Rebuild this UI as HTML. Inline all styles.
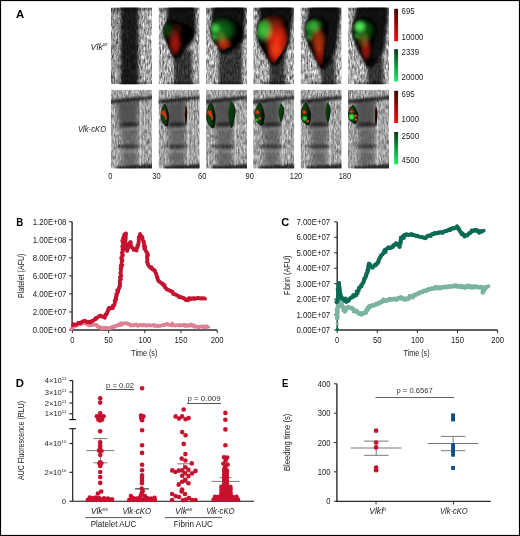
<!DOCTYPE html><html><head><meta charset="utf-8"><title>Figure</title><style>
html,body{margin:0;padding:0;background:#fff;width:520px;height:536px;overflow:hidden;font-family:"Liberation Sans",sans-serif}
svg{display:block;will-change:transform}
text{font-family:"Liberation Sans",sans-serif}
</style></head><body>
<svg width="520" height="536" viewBox="0 0 520 536">
<defs>
<filter id="tex1" x="0" y="0" width="1" height="1" color-interpolation-filters="sRGB">
<feTurbulence type="fractalNoise" baseFrequency="0.45 0.16" numOctaves="2" seed="4" result="n"/>
<feColorMatrix in="n" type="matrix" values="0.33 0.33 0.33 0 0  0.33 0.33 0.33 0 0  0.33 0.33 0.33 0 0  0 0 0 0 1"/>
<feComponentTransfer><feFuncR type="linear" slope="3.2" intercept="-0.95"/><feFuncG type="linear" slope="3.2" intercept="-0.95"/><feFuncB type="linear" slope="3.2" intercept="-0.95"/></feComponentTransfer>
</filter>
<filter id="b1" x="-50%" y="-50%" width="200%" height="200%"><feGaussianBlur stdDeviation="1"/></filter>
<filter id="b2" x="-50%" y="-50%" width="200%" height="200%"><feGaussianBlur stdDeviation="2"/></filter>
<filter id="b3" x="-50%" y="-50%" width="200%" height="200%"><feGaussianBlur stdDeviation="3"/></filter>
<filter id="b05" x="-50%" y="-50%" width="200%" height="200%"><feGaussianBlur stdDeviation="0.6"/></filter>
<linearGradient id="gr" x1="0" y1="0" x2="0" y2="1"><stop offset="0" stop-color="#3a0606"/><stop offset="0.5" stop-color="#a00808"/><stop offset="1" stop-color="#ff0a0a"/></linearGradient>
<linearGradient id="gg" x1="0" y1="0" x2="0" y2="1"><stop offset="0" stop-color="#053a1c"/><stop offset="0.5" stop-color="#109848"/><stop offset="1" stop-color="#18f064"/></linearGradient>
<linearGradient id="colA" x1="0" y1="0" x2="1" y2="0"><stop offset="0" stop-color="#000" stop-opacity="0"/><stop offset="0.2" stop-color="#000" stop-opacity="0.1"/><stop offset="0.3" stop-color="#000" stop-opacity="0.75"/><stop offset="0.5" stop-color="#000" stop-opacity="0.85"/><stop offset="0.65" stop-color="#000" stop-opacity="0.75"/><stop offset="0.72" stop-color="#000" stop-opacity="0.2"/><stop offset="1" stop-color="#000" stop-opacity="0"/></linearGradient>
<filter id="texA" x="0" y="0" width="520" height="536" filterUnits="userSpaceOnUse" color-interpolation-filters="sRGB">
<feTurbulence type="fractalNoise" baseFrequency="0.7 0.2" numOctaves="3" seed="11" result="n"/>
<feColorMatrix in="n" type="matrix" values="0.33 0.33 0.33 0 0  0.33 0.33 0.33 0 0  0.33 0.33 0.33 0 0  0 0 0 0 1" result="g"/>
<feComponentTransfer in="g"><feFuncR type="linear" slope="1.8" intercept="-0.22"/><feFuncG type="linear" slope="1.8" intercept="-0.22"/><feFuncB type="linear" slope="1.8" intercept="-0.22"/></feComponentTransfer>
<feComposite in2="SourceGraphic" operator="in"/>
</filter>
<filter id="bl15" x="-30%" y="-30%" width="160%" height="160%"><feGaussianBlur stdDeviation="1.5"/></filter>
<filter id="bl08" x="-30%" y="-30%" width="160%" height="160%"><feGaussianBlur stdDeviation="0.8"/></filter>
<filter id="bl05" x="-30%" y="-30%" width="160%" height="160%"><feGaussianBlur stdDeviation="0.5"/></filter>
<filter id="bl25" x="-30%" y="-30%" width="160%" height="160%"><feGaussianBlur stdDeviation="2.5"/></filter>
<clipPath id="cp1"><rect x="111" y="7.6" width="41" height="76.6"/></clipPath>
<clipPath id="cp2"><rect x="158.6" y="7.6" width="41" height="76.6"/></clipPath>
<clipPath id="bc3"><path d="M163.5,28.4 C163.9,26.6 164.7,25.3 165.7,23.9 C166.7,22.5 168.0,20.7 169.4,20.2 C170.8,19.7 171.2,20.3 173.9,20.9 C176.7,21.5 182.8,22.6 185.9,23.9 C189.0,25.1 191.4,26.4 192.6,28.4 C193.8,30.4 193.7,33.9 193.3,35.9 C192.9,37.9 192.3,38.1 190.3,40.3 C188.3,42.5 184.0,46.4 181.4,49.3 C178.8,52.2 176.4,57.2 174.7,57.5 C172.9,57.8 172.3,53.4 170.9,50.8 C169.5,48.2 167.6,44.5 166.4,41.8 C165.2,39.1 164.0,36.6 163.5,34.4 C163.0,32.2 163.1,30.1 163.5,28.4Z"/></clipPath>
<radialGradient id="rg4"><stop offset="0" stop-color="#0a4010" stop-opacity="1"/><stop offset="0.55" stop-color="#0a4010" stop-opacity="0.70"/><stop offset="1" stop-color="#0a4010" stop-opacity="0"/></radialGradient>
<radialGradient id="rg5"><stop offset="0" stop-color="#b01a10" stop-opacity="1"/><stop offset="0.55" stop-color="#b01a10" stop-opacity="0.70"/><stop offset="1" stop-color="#b01a10" stop-opacity="0"/></radialGradient>
<radialGradient id="rg6"><stop offset="0" stop-color="#300c06" stop-opacity="1"/><stop offset="0.55" stop-color="#300c06" stop-opacity="0.70"/><stop offset="1" stop-color="#300c06" stop-opacity="0"/></radialGradient>
<clipPath id="cp7"><rect x="206" y="7.6" width="41" height="76.6"/></clipPath>
<clipPath id="bc8"><path d="M211.2,25.4 C211.6,23.4 212.3,22.1 213.4,20.9 C214.5,19.6 216.2,18.5 217.9,17.9 C219.7,17.3 221.4,16.9 223.9,17.2 C226.4,17.4 230.2,18.0 232.9,19.4 C235.6,20.8 238.7,23.1 240.3,25.4 C241.9,27.6 242.5,30.4 242.6,32.9 C242.7,35.4 242.1,38.3 241.0,40.3 C239.9,42.3 237.9,43.5 235.8,44.8 C233.7,46.0 230.6,46.8 228.4,47.8 C226.2,48.8 224.2,51.0 222.4,50.8 C220.7,50.5 219.4,48.0 217.9,46.3 C216.4,44.5 214.5,42.5 213.4,40.3 C212.3,38.1 211.6,35.4 211.2,32.9 C210.8,30.4 210.8,27.4 211.2,25.4Z"/></clipPath>
<radialGradient id="rg9"><stop offset="0" stop-color="#10701a" stop-opacity="1"/><stop offset="0.55" stop-color="#10701a" stop-opacity="0.70"/><stop offset="1" stop-color="#10701a" stop-opacity="0"/></radialGradient>
<radialGradient id="rg10"><stop offset="0" stop-color="#40c040" stop-opacity="1"/><stop offset="0.55" stop-color="#40c040" stop-opacity="0.70"/><stop offset="1" stop-color="#40c040" stop-opacity="0"/></radialGradient>
<radialGradient id="rg11"><stop offset="0" stop-color="#30a830" stop-opacity="1"/><stop offset="0.55" stop-color="#30a830" stop-opacity="0.70"/><stop offset="1" stop-color="#30a830" stop-opacity="0"/></radialGradient>
<radialGradient id="rg12"><stop offset="0" stop-color="#d02a10" stop-opacity="1"/><stop offset="0.55" stop-color="#d02a10" stop-opacity="0.70"/><stop offset="1" stop-color="#d02a10" stop-opacity="0"/></radialGradient>
<radialGradient id="rg13"><stop offset="0" stop-color="#503a10" stop-opacity="1"/><stop offset="0.55" stop-color="#503a10" stop-opacity="0.70"/><stop offset="1" stop-color="#503a10" stop-opacity="0"/></radialGradient>
<clipPath id="cp14"><rect x="253.2" y="7.6" width="41" height="76.6"/></clipPath>
<clipPath id="bc15"><path d="M257.5,28.4 C257.8,25.8 258.1,24.8 259.0,23.2 C259.9,21.6 261.2,19.9 262.7,18.7 C264.2,17.4 265.8,16.3 267.9,15.7 C270.0,15.1 272.9,14.8 275.4,15.0 C277.9,15.2 280.8,16.0 282.8,17.2 C284.8,18.4 286.3,20.3 287.3,22.4 C288.3,24.5 288.7,27.2 288.8,29.9 C288.9,32.6 288.6,36.1 288.1,38.8 C287.6,41.5 286.9,43.8 285.8,46.3 C284.7,48.8 282.8,51.6 281.3,53.8 C279.8,56.0 278.1,57.8 276.9,59.7 C275.7,61.6 275.1,64.8 273.9,65.0 C272.6,65.2 270.9,63.1 269.4,61.2 C267.9,59.3 266.4,56.3 264.9,53.8 C263.4,51.3 261.6,48.8 260.4,46.3 C259.2,43.8 258.0,41.8 257.5,38.8 C257.0,35.8 257.2,31.0 257.5,28.4Z"/></clipPath>
<radialGradient id="rg16"><stop offset="0" stop-color="#ff2c10" stop-opacity="1"/><stop offset="0.55" stop-color="#ff2c10" stop-opacity="0.70"/><stop offset="1" stop-color="#ff2c10" stop-opacity="0"/></radialGradient>
<radialGradient id="rg17"><stop offset="0" stop-color="#e8220c" stop-opacity="1"/><stop offset="0.55" stop-color="#e8220c" stop-opacity="0.70"/><stop offset="1" stop-color="#e8220c" stop-opacity="0"/></radialGradient>
<radialGradient id="rg18"><stop offset="0" stop-color="#40d040" stop-opacity="1"/><stop offset="0.55" stop-color="#40d040" stop-opacity="0.70"/><stop offset="1" stop-color="#40d040" stop-opacity="0"/></radialGradient>
<radialGradient id="rg19"><stop offset="0" stop-color="#601408" stop-opacity="1"/><stop offset="0.55" stop-color="#601408" stop-opacity="0.70"/><stop offset="1" stop-color="#601408" stop-opacity="0"/></radialGradient>
<clipPath id="cp20"><rect x="300.6" y="7.6" width="41" height="76.6"/></clipPath>
<clipPath id="bc21"><path d="M305.2,28.4 C305.3,26.3 305.8,24.7 306.7,23.2 C307.6,21.7 309.0,20.4 310.4,19.4 C311.8,18.4 313.4,17.6 314.9,17.2 C316.4,16.8 317.9,16.9 319.4,17.2 C320.9,17.4 322.5,17.7 323.9,18.7 C325.3,19.7 326.9,21.3 327.6,23.2 C328.3,25.1 328.4,27.0 328.3,29.9 C328.2,32.8 327.5,36.8 326.9,40.3 C326.3,43.8 325.2,47.6 324.6,50.8 C324.0,54.0 323.6,56.8 323.1,59.7 C322.6,62.6 322.5,67.5 321.6,68.0 C320.7,68.5 319.3,65.1 317.9,62.7 C316.5,60.3 314.9,56.8 313.4,53.8 C311.9,50.8 310.1,47.8 308.9,44.8 C307.7,41.8 306.6,38.6 306.0,35.9 C305.4,33.2 305.1,30.5 305.2,28.4Z"/></clipPath>
<radialGradient id="rg22"><stop offset="0" stop-color="#2ea830" stop-opacity="1"/><stop offset="0.55" stop-color="#2ea830" stop-opacity="0.70"/><stop offset="1" stop-color="#2ea830" stop-opacity="0"/></radialGradient>
<radialGradient id="rg23"><stop offset="0" stop-color="#289a2a" stop-opacity="1"/><stop offset="0.55" stop-color="#289a2a" stop-opacity="0.70"/><stop offset="1" stop-color="#289a2a" stop-opacity="0"/></radialGradient>
<radialGradient id="rg24"><stop offset="0" stop-color="#b8360c" stop-opacity="1"/><stop offset="0.55" stop-color="#b8360c" stop-opacity="0.70"/><stop offset="1" stop-color="#b8360c" stop-opacity="0"/></radialGradient>
<radialGradient id="rg25"><stop offset="0" stop-color="#981408" stop-opacity="1"/><stop offset="0.55" stop-color="#981408" stop-opacity="0.70"/><stop offset="1" stop-color="#981408" stop-opacity="0"/></radialGradient>
<radialGradient id="rg26"><stop offset="0" stop-color="#145a14" stop-opacity="1"/><stop offset="0.55" stop-color="#145a14" stop-opacity="0.70"/><stop offset="1" stop-color="#145a14" stop-opacity="0"/></radialGradient>
<clipPath id="cp27"><rect x="348" y="7.6" width="41" height="76.6"/></clipPath>
<clipPath id="bc28"><path d="M352.5,29.9 C352.6,27.9 353.1,25.6 354.0,23.9 C354.9,22.1 356.3,20.5 357.7,19.4 C359.1,18.3 360.6,17.6 362.2,17.2 C363.8,16.8 365.7,16.8 367.4,17.2 C369.1,17.6 371.1,18.3 372.6,19.4 C374.1,20.5 375.6,22.1 376.3,23.9 C377.1,25.6 377.3,27.2 377.1,29.9 C376.9,32.6 375.6,36.8 374.9,40.3 C374.1,43.8 373.4,47.6 372.6,50.8 C371.9,54.0 371.1,57.1 370.4,59.7 C369.6,62.3 369.1,66.4 368.1,66.4 C367.1,66.4 365.8,62.3 364.4,59.7 C363.0,57.1 361.4,53.8 359.9,50.8 C358.4,47.8 356.5,44.3 355.4,41.8 C354.3,39.3 353.7,37.9 353.2,35.9 C352.7,33.9 352.4,31.9 352.5,29.9Z"/></clipPath>
<radialGradient id="rg29"><stop offset="0" stop-color="#58ff58" stop-opacity="1"/><stop offset="0.55" stop-color="#58ff58" stop-opacity="0.70"/><stop offset="1" stop-color="#58ff58" stop-opacity="0"/></radialGradient>
<radialGradient id="rg30"><stop offset="0" stop-color="#0c5a14" stop-opacity="1"/><stop offset="0.55" stop-color="#0c5a14" stop-opacity="0.70"/><stop offset="1" stop-color="#0c5a14" stop-opacity="0"/></radialGradient>
<radialGradient id="rg31"><stop offset="0" stop-color="#5a4a0c" stop-opacity="1"/><stop offset="0.55" stop-color="#5a4a0c" stop-opacity="0.70"/><stop offset="1" stop-color="#5a4a0c" stop-opacity="0"/></radialGradient>
<radialGradient id="rg32"><stop offset="0" stop-color="#a81810" stop-opacity="1"/><stop offset="0.55" stop-color="#a81810" stop-opacity="0.70"/><stop offset="1" stop-color="#a81810" stop-opacity="0"/></radialGradient>
<radialGradient id="rg33"><stop offset="0" stop-color="#289828" stop-opacity="1"/><stop offset="0.55" stop-color="#289828" stop-opacity="0.70"/><stop offset="1" stop-color="#289828" stop-opacity="0"/></radialGradient>
<clipPath id="cp34"><rect x="111" y="89.7" width="41" height="78.9"/></clipPath>
<clipPath id="cp35"><rect x="158.6" y="89.7" width="41" height="78.9"/></clipPath>
<linearGradient id="lg36" x1="0" y1="0" x2="1" y2="0"><stop offset="0" stop-color="#0e5214"/><stop offset="0.55" stop-color="#08380b"/><stop offset="1" stop-color="#010601"/></linearGradient>
<linearGradient id="lg37" x1="0" y1="0" x2="1" y2="1"><stop offset="0" stop-color="#3a0a06"/><stop offset="1" stop-color="#100202"/></linearGradient>
<radialGradient id="rg38"><stop offset="0" stop-color="#ff3414" stop-opacity="1"/><stop offset="0.55" stop-color="#ff3414" stop-opacity="0.70"/><stop offset="1" stop-color="#ff3414" stop-opacity="0"/></radialGradient>
<radialGradient id="rg39"><stop offset="0" stop-color="#ff3a14" stop-opacity="1"/><stop offset="0.55" stop-color="#ff3a14" stop-opacity="0.70"/><stop offset="1" stop-color="#ff3a14" stop-opacity="0"/></radialGradient>
<radialGradient id="rg40"><stop offset="0" stop-color="#f04014" stop-opacity="0.95"/><stop offset="0.55" stop-color="#f04014" stop-opacity="0.66"/><stop offset="1" stop-color="#f04014" stop-opacity="0"/></radialGradient>
<clipPath id="cp41"><rect x="206" y="89.7" width="41" height="78.9"/></clipPath>
<linearGradient id="lg42" x1="0" y1="0" x2="1" y2="0"><stop offset="0" stop-color="#0e5214"/><stop offset="0.55" stop-color="#08380b"/><stop offset="1" stop-color="#010601"/></linearGradient>
<linearGradient id="lg43" x1="0" y1="0" x2="1" y2="1"><stop offset="0" stop-color="#0a4a10"/><stop offset="1" stop-color="#041e06"/></linearGradient>
<radialGradient id="rg44"><stop offset="0" stop-color="#ff3414" stop-opacity="1"/><stop offset="0.55" stop-color="#ff3414" stop-opacity="0.70"/><stop offset="1" stop-color="#ff3414" stop-opacity="0"/></radialGradient>
<radialGradient id="rg45"><stop offset="0" stop-color="#ff3a14" stop-opacity="1"/><stop offset="0.55" stop-color="#ff3a14" stop-opacity="0.70"/><stop offset="1" stop-color="#ff3a14" stop-opacity="0"/></radialGradient>
<radialGradient id="rg46"><stop offset="0" stop-color="#f04014" stop-opacity="0.95"/><stop offset="0.55" stop-color="#f04014" stop-opacity="0.66"/><stop offset="1" stop-color="#f04014" stop-opacity="0"/></radialGradient>
<clipPath id="cp47"><rect x="253.2" y="89.7" width="41" height="78.9"/></clipPath>
<linearGradient id="lg48" x1="0" y1="0" x2="1" y2="0"><stop offset="0" stop-color="#0e5214"/><stop offset="0.55" stop-color="#08380b"/><stop offset="1" stop-color="#010601"/></linearGradient>
<linearGradient id="lg49" x1="0" y1="0" x2="1" y2="1"><stop offset="0" stop-color="#0c5212"/><stop offset="1" stop-color="#041e06"/></linearGradient>
<radialGradient id="rg50"><stop offset="0" stop-color="#ff3414" stop-opacity="1"/><stop offset="0.55" stop-color="#ff3414" stop-opacity="0.70"/><stop offset="1" stop-color="#ff3414" stop-opacity="0"/></radialGradient>
<radialGradient id="rg51"><stop offset="0" stop-color="#ff5018" stop-opacity="1"/><stop offset="0.55" stop-color="#ff5018" stop-opacity="0.70"/><stop offset="1" stop-color="#ff5018" stop-opacity="0"/></radialGradient>
<radialGradient id="rg52"><stop offset="0" stop-color="#30d038" stop-opacity="1"/><stop offset="0.55" stop-color="#30d038" stop-opacity="0.70"/><stop offset="1" stop-color="#30d038" stop-opacity="0"/></radialGradient>
<clipPath id="cp53"><rect x="300.6" y="89.7" width="41" height="78.9"/></clipPath>
<linearGradient id="lg54" x1="0" y1="0" x2="1" y2="0"><stop offset="0" stop-color="#0e5214"/><stop offset="0.55" stop-color="#08380b"/><stop offset="1" stop-color="#010601"/></linearGradient>
<linearGradient id="lg55" x1="0" y1="0" x2="1" y2="1"><stop offset="0" stop-color="#0a4a10"/><stop offset="1" stop-color="#041e06"/></linearGradient>
<radialGradient id="rg56"><stop offset="0" stop-color="#ff3414" stop-opacity="1"/><stop offset="0.55" stop-color="#ff3414" stop-opacity="0.70"/><stop offset="1" stop-color="#ff3414" stop-opacity="0"/></radialGradient>
<radialGradient id="rg57"><stop offset="0" stop-color="#38e040" stop-opacity="1"/><stop offset="0.55" stop-color="#38e040" stop-opacity="0.70"/><stop offset="1" stop-color="#38e040" stop-opacity="0"/></radialGradient>
<radialGradient id="rg58"><stop offset="0" stop-color="#ff5018" stop-opacity="1"/><stop offset="0.55" stop-color="#ff5018" stop-opacity="0.70"/><stop offset="1" stop-color="#ff5018" stop-opacity="0"/></radialGradient>
<clipPath id="cp59"><rect x="348" y="89.7" width="41" height="78.9"/></clipPath>
<linearGradient id="lg60" x1="0" y1="0" x2="1" y2="0"><stop offset="0" stop-color="#0e5214"/><stop offset="0.55" stop-color="#08380b"/><stop offset="1" stop-color="#010601"/></linearGradient>
<linearGradient id="lg61" x1="0" y1="0" x2="1" y2="1"><stop offset="0" stop-color="#400a08"/><stop offset="1" stop-color="#120202"/></linearGradient>
<radialGradient id="rg62"><stop offset="0" stop-color="#48ff48" stop-opacity="1"/><stop offset="0.55" stop-color="#48ff48" stop-opacity="0.70"/><stop offset="1" stop-color="#48ff48" stop-opacity="0"/></radialGradient>
<radialGradient id="rg63"><stop offset="0" stop-color="#ff3414" stop-opacity="1"/><stop offset="0.55" stop-color="#ff3414" stop-opacity="0.70"/><stop offset="1" stop-color="#ff3414" stop-opacity="0"/></radialGradient>
<radialGradient id="rg64"><stop offset="0" stop-color="#ff5018" stop-opacity="1"/><stop offset="0.55" stop-color="#ff5018" stop-opacity="0.70"/><stop offset="1" stop-color="#ff5018" stop-opacity="0"/></radialGradient>
<radialGradient id="rg65"><stop offset="0" stop-color="#ff5018" stop-opacity="1"/><stop offset="0.55" stop-color="#ff5018" stop-opacity="0.70"/><stop offset="1" stop-color="#ff5018" stop-opacity="0"/></radialGradient>
</defs>
<rect x="0" y="0" width="520" height="536" fill="#fff"/>
<text x="16" y="17.8" font-size="11.6" textLength="8.2" lengthAdjust="spacingAndGlyphs" font-weight="bold" fill="#000" >A</text>
<text x="90.6" y="49.8" font-size="8.8" font-style="italic" fill="#1a1a1a">Vlk<tspan font-size="4.4" dy="-3.4" textLength="4.6" lengthAdjust="spacingAndGlyphs">fl/fl</tspan></text>
<text x="77.9" y="131.7" font-size="9" textLength="28.3" lengthAdjust="spacingAndGlyphs" font-style="italic" fill="#1a1a1a" >Vlk-cKO</text>
<g clip-path="url(#cp1)">
<rect x="111" y="7.6" width="41" height="76.6" fill="#fff" filter="url(#texA)"/>
<rect x="111" y="7.6" width="41" height="3" fill="#000" opacity="0.45" filter="url(#bl08)"/>
<rect x="119" y="82.2" width="29" height="3" fill="#000" opacity="0.5" filter="url(#bl08)"/>
<rect x="120.5" y="4.6" width="18" height="82.6" fill="#000" opacity="0.85" filter="url(#bl15)"/>
<rect x="111" y="7.6" width="8" height="76.6" fill="#000" opacity="0.12"/>
</g>
<g clip-path="url(#cp2)">
<rect x="158.6" y="7.6" width="41" height="76.6" fill="#fff" filter="url(#texA)"/>
<rect x="158.6" y="7.6" width="41" height="3" fill="#000" opacity="0.45" filter="url(#bl08)"/>
<rect x="166.6" y="82.2" width="29" height="3" fill="#000" opacity="0.5" filter="url(#bl08)"/>
<rect x="174" y="50" width="18" height="36" fill="#000" opacity="0.7" filter="url(#bl15)"/>
<path d="M170.0,6.0 C174.3,4.3 188.8,3.7 193.0,6.0 C197.2,8.3 195.1,15.7 195.5,20.0 C195.9,24.3 196.0,28.3 195.5,32.0 C195.0,35.7 194.4,38.7 192.5,42.0 C190.6,45.3 186.8,49.0 184.0,52.0 C181.2,55.0 178.3,60.3 176.0,60.0 C173.7,59.7 171.7,53.7 170.0,50.0 C168.3,46.3 166.8,41.7 166.0,38.0 C165.2,34.3 164.8,31.7 165.0,28.0 C165.2,24.3 166.2,19.7 167.0,16.0 C167.8,12.3 165.7,7.7 170.0,6.0Z" fill="#000" opacity="0.9" filter="url(#bl15)"/>
<path d="M163.5,28.4 C163.9,26.6 164.7,25.3 165.7,23.9 C166.7,22.5 168.0,20.7 169.4,20.2 C170.8,19.7 171.2,20.3 173.9,20.9 C176.7,21.5 182.8,22.6 185.9,23.9 C189.0,25.1 191.4,26.4 192.6,28.4 C193.8,30.4 193.7,33.9 193.3,35.9 C192.9,37.9 192.3,38.1 190.3,40.3 C188.3,42.5 184.0,46.4 181.4,49.3 C178.8,52.2 176.4,57.2 174.7,57.5 C172.9,57.8 172.3,53.4 170.9,50.8 C169.5,48.2 167.6,44.5 166.4,41.8 C165.2,39.1 164.0,36.6 163.5,34.4 C163.0,32.2 163.1,30.1 163.5,28.4Z" fill="#050505" filter="url(#bl08)"/>
<g clip-path="url(#bc3)"><g filter="url(#bl15)" style="isolation:isolate"><ellipse cx="167" cy="30" rx="7.32" ry="9.76" fill="url(#rg4)" style="mix-blend-mode:screen"/><ellipse cx="175" cy="43" rx="7.32" ry="14.64" fill="url(#rg5)" style="mix-blend-mode:screen"/><ellipse cx="177" cy="29" rx="7.32" ry="7.32" fill="url(#rg6)" style="mix-blend-mode:screen"/></g></g>
</g>
<g clip-path="url(#cp7)">
<rect x="206" y="7.6" width="41" height="76.6" fill="#fff" filter="url(#texA)"/>
<rect x="206" y="7.6" width="41" height="3" fill="#000" opacity="0.45" filter="url(#bl08)"/>
<rect x="214" y="82.2" width="29" height="3" fill="#000" opacity="0.5" filter="url(#bl08)"/>
<rect x="219" y="45" width="23" height="41" fill="#000" opacity="0.7" filter="url(#bl15)"/>
<path d="M215.0,6.0 C220.2,3.0 238.1,2.3 243.0,6.0 C247.9,9.7 244.5,22.0 244.5,28.0 C244.5,34.0 244.4,38.7 243.0,42.0 C241.6,45.3 239.2,46.0 236.0,48.0 C232.8,50.0 227.2,54.3 224.0,54.0 C220.8,53.7 219.0,49.0 217.0,46.0 C215.0,43.0 212.9,39.7 212.0,36.0 C211.1,32.3 211.0,29.0 211.5,24.0 C212.0,19.0 209.8,9.0 215.0,6.0Z" fill="#000" opacity="0.9" filter="url(#bl15)"/>
<path d="M211.2,25.4 C211.6,23.4 212.3,22.1 213.4,20.9 C214.5,19.6 216.2,18.5 217.9,17.9 C219.7,17.3 221.4,16.9 223.9,17.2 C226.4,17.4 230.2,18.0 232.9,19.4 C235.6,20.8 238.7,23.1 240.3,25.4 C241.9,27.6 242.5,30.4 242.6,32.9 C242.7,35.4 242.1,38.3 241.0,40.3 C239.9,42.3 237.9,43.5 235.8,44.8 C233.7,46.0 230.6,46.8 228.4,47.8 C226.2,48.8 224.2,51.0 222.4,50.8 C220.7,50.5 219.4,48.0 217.9,46.3 C216.4,44.5 214.5,42.5 213.4,40.3 C212.3,38.1 211.6,35.4 211.2,32.9 C210.8,30.4 210.8,27.4 211.2,25.4Z" fill="#050505" filter="url(#bl08)"/>
<g clip-path="url(#bc8)"><g filter="url(#bl15)" style="isolation:isolate"><ellipse cx="221" cy="30" rx="17.08" ry="14.64" fill="url(#rg9)" style="mix-blend-mode:screen"/><ellipse cx="215" cy="28.4" rx="6.1" ry="6.1" fill="url(#rg10)" style="mix-blend-mode:screen"/><ellipse cx="213.8" cy="37.3" rx="3.904" ry="3.904" fill="url(#rg11)" style="mix-blend-mode:screen"/><ellipse cx="224" cy="44.5" rx="8.54" ry="7.32" fill="url(#rg12)" style="mix-blend-mode:screen"/><ellipse cx="221" cy="37" rx="6.1" ry="6.1" fill="url(#rg13)" style="mix-blend-mode:screen"/></g></g>
</g>
<g clip-path="url(#cp14)">
<rect x="253.2" y="7.6" width="41" height="76.6" fill="#fff" filter="url(#texA)"/>
<rect x="253.2" y="7.6" width="41" height="3" fill="#000" opacity="0.45" filter="url(#bl08)"/>
<rect x="261.2" y="82.2" width="29" height="3" fill="#000" opacity="0.5" filter="url(#bl08)"/>
<rect x="269.5" y="55" width="15.5" height="31" fill="#000" opacity="0.7" filter="url(#bl15)"/>
<path d="M262.0,6.0 C267.4,4.0 286.7,2.0 291.5,6.0 C296.3,10.0 291.4,23.5 291.0,30.0 C290.6,36.5 290.2,40.7 289.0,45.0 C287.8,49.3 286.2,52.5 284.0,56.0 C281.8,59.5 278.7,65.7 276.0,66.0 C273.3,66.3 270.5,61.3 268.0,58.0 C265.5,54.7 262.8,50.3 261.0,46.0 C259.2,41.7 257.8,36.7 257.5,32.0 C257.2,27.3 258.2,22.3 259.0,18.0 C259.8,13.7 256.6,8.0 262.0,6.0Z" fill="#000" opacity="0.9" filter="url(#bl15)"/>
<path d="M257.5,28.4 C257.8,25.8 258.1,24.8 259.0,23.2 C259.9,21.6 261.2,19.9 262.7,18.7 C264.2,17.4 265.8,16.3 267.9,15.7 C270.0,15.1 272.9,14.8 275.4,15.0 C277.9,15.2 280.8,16.0 282.8,17.2 C284.8,18.4 286.3,20.3 287.3,22.4 C288.3,24.5 288.7,27.2 288.8,29.9 C288.9,32.6 288.6,36.1 288.1,38.8 C287.6,41.5 286.9,43.8 285.8,46.3 C284.7,48.8 282.8,51.6 281.3,53.8 C279.8,56.0 278.1,57.8 276.9,59.7 C275.7,61.6 275.1,64.8 273.9,65.0 C272.6,65.2 270.9,63.1 269.4,61.2 C267.9,59.3 266.4,56.3 264.9,53.8 C263.4,51.3 261.6,48.8 260.4,46.3 C259.2,43.8 258.0,41.8 257.5,38.8 C257.0,35.8 257.2,31.0 257.5,28.4Z" fill="#050505" filter="url(#bl08)"/>
<g clip-path="url(#bc15)"><g filter="url(#bl15)" style="isolation:isolate"><ellipse cx="277" cy="40" rx="13.42" ry="20.74" fill="url(#rg16)" style="mix-blend-mode:screen"/><ellipse cx="275.5" cy="53" rx="8.54" ry="12.2" fill="url(#rg17)" style="mix-blend-mode:screen"/><ellipse cx="263.5" cy="30" rx="10.37" ry="13.42" fill="url(#rg18)" style="mix-blend-mode:screen"/><ellipse cx="274" cy="21" rx="12.2" ry="7.32" fill="url(#rg19)" style="mix-blend-mode:screen"/></g></g>
</g>
<g clip-path="url(#cp20)">
<rect x="300.6" y="7.6" width="41" height="76.6" fill="#fff" filter="url(#texA)"/>
<rect x="300.6" y="7.6" width="41" height="3" fill="#000" opacity="0.45" filter="url(#bl08)"/>
<rect x="308.6" y="82.2" width="29" height="3" fill="#000" opacity="0.5" filter="url(#bl08)"/>
<rect x="321" y="58" width="14" height="28" fill="#000" opacity="0.7" filter="url(#bl15)"/>
<path d="M312.0,6.0 C317.2,4.0 334.2,1.2 338.5,6.0 C342.8,10.8 338.5,27.3 338.0,35.0 C337.5,42.7 336.8,47.5 335.5,52.0 C334.2,56.5 332.2,59.0 330.0,62.0 C327.8,65.0 324.3,70.3 322.0,70.0 C319.7,69.7 318.2,64.0 316.0,60.0 C313.8,56.0 310.8,51.0 309.0,46.0 C307.2,41.0 305.3,34.7 305.0,30.0 C304.7,25.3 305.8,22.0 307.0,18.0 C308.2,14.0 306.8,8.0 312.0,6.0Z" fill="#000" opacity="0.9" filter="url(#bl15)"/>
<path d="M305.2,28.4 C305.3,26.3 305.8,24.7 306.7,23.2 C307.6,21.7 309.0,20.4 310.4,19.4 C311.8,18.4 313.4,17.6 314.9,17.2 C316.4,16.8 317.9,16.9 319.4,17.2 C320.9,17.4 322.5,17.7 323.9,18.7 C325.3,19.7 326.9,21.3 327.6,23.2 C328.3,25.1 328.4,27.0 328.3,29.9 C328.2,32.8 327.5,36.8 326.9,40.3 C326.3,43.8 325.2,47.6 324.6,50.8 C324.0,54.0 323.6,56.8 323.1,59.7 C322.6,62.6 322.5,67.5 321.6,68.0 C320.7,68.5 319.3,65.1 317.9,62.7 C316.5,60.3 314.9,56.8 313.4,53.8 C311.9,50.8 310.1,47.8 308.9,44.8 C307.7,41.8 306.6,38.6 306.0,35.9 C305.4,33.2 305.1,30.5 305.2,28.4Z" fill="#050505" filter="url(#bl08)"/>
<g clip-path="url(#bc21)"><g filter="url(#bl15)" style="isolation:isolate"><ellipse cx="311.5" cy="27" rx="9.76" ry="9.76" fill="url(#rg22)" style="mix-blend-mode:screen"/><ellipse cx="309" cy="37.3" rx="4.27" ry="4.27" fill="url(#rg23)" style="mix-blend-mode:screen"/><ellipse cx="318.5" cy="41" rx="8.54" ry="14.64" fill="url(#rg24)" style="mix-blend-mode:screen"/><ellipse cx="320" cy="55" rx="6.71" ry="12.2" fill="url(#rg25)" style="mix-blend-mode:screen"/><ellipse cx="317" cy="25" rx="7.32" ry="7.32" fill="url(#rg26)" style="mix-blend-mode:screen"/></g></g>
</g>
<g clip-path="url(#cp27)">
<rect x="348" y="7.6" width="41" height="76.6" fill="#fff" filter="url(#texA)"/>
<rect x="348" y="7.6" width="41" height="3" fill="#000" opacity="0.45" filter="url(#bl08)"/>
<rect x="356" y="82.2" width="29" height="3" fill="#000" opacity="0.5" filter="url(#bl08)"/>
<rect x="367.5" y="58" width="15.5" height="28" fill="#000" opacity="0.7" filter="url(#bl15)"/>
<path d="M360.0,6.0 C365.4,4.0 382.2,1.2 386.5,6.0 C390.8,10.8 386.5,27.3 386.0,35.0 C385.5,42.7 385.0,47.5 383.5,52.0 C382.0,56.5 379.4,59.3 377.0,62.0 C374.6,64.7 371.5,68.7 369.0,68.0 C366.5,67.3 364.2,61.7 362.0,58.0 C359.8,54.3 357.6,50.7 356.0,46.0 C354.4,41.3 352.8,34.7 352.5,30.0 C352.2,25.3 352.8,22.0 354.0,18.0 C355.2,14.0 354.6,8.0 360.0,6.0Z" fill="#000" opacity="0.9" filter="url(#bl15)"/>
<path d="M352.5,29.9 C352.6,27.9 353.1,25.6 354.0,23.9 C354.9,22.1 356.3,20.5 357.7,19.4 C359.1,18.3 360.6,17.6 362.2,17.2 C363.8,16.8 365.7,16.8 367.4,17.2 C369.1,17.6 371.1,18.3 372.6,19.4 C374.1,20.5 375.6,22.1 376.3,23.9 C377.1,25.6 377.3,27.2 377.1,29.9 C376.9,32.6 375.6,36.8 374.9,40.3 C374.1,43.8 373.4,47.6 372.6,50.8 C371.9,54.0 371.1,57.1 370.4,59.7 C369.6,62.3 369.1,66.4 368.1,66.4 C367.1,66.4 365.8,62.3 364.4,59.7 C363.0,57.1 361.4,53.8 359.9,50.8 C358.4,47.8 356.5,44.3 355.4,41.8 C354.3,39.3 353.7,37.9 353.2,35.9 C352.7,33.9 352.4,31.9 352.5,29.9Z" fill="#050505" filter="url(#bl08)"/>
<g clip-path="url(#bc28)"><g filter="url(#bl15)" style="isolation:isolate"><ellipse cx="359.5" cy="26.5" rx="7.32" ry="7.32" fill="url(#rg29)" style="mix-blend-mode:screen"/><ellipse cx="364" cy="30" rx="12.2" ry="12.2" fill="url(#rg30)" style="mix-blend-mode:screen"/><ellipse cx="363.5" cy="40" rx="7.32" ry="8.54" fill="url(#rg31)" style="mix-blend-mode:screen"/><ellipse cx="366" cy="50" rx="6.1" ry="12.2" fill="url(#rg32)" style="mix-blend-mode:screen"/><ellipse cx="356.5" cy="36" rx="3.66" ry="3.66" fill="url(#rg33)" style="mix-blend-mode:screen"/></g></g>
</g>
<g clip-path="url(#cp34)">
<rect x="111" y="89.7" width="41" height="78.9" fill="#fff" filter="url(#texA)"/>
<rect x="111" y="89.7" width="41" height="78.9" fill="#8e8e8e" opacity="0.3"/>
<path d="M117,101.7 L139,98.7 L138,129.7 L119,130.7Z" fill="#4a4a4a" opacity="0.9" filter="url(#bl25)"/>
<path d="M121.5,127.7 L138,127.7 L137,166.7 L122,166.7Z" fill="#555" opacity="0.78" filter="url(#bl25)"/>
<path d="M109,99.9 L154,95.5 L154,99.10000000000001 L109,104.10000000000001Z" fill="#000" opacity="0.72" filter="url(#bl08)"/>
<ellipse cx="130" cy="124.30000000000001" rx="10" ry="2.0" fill="#000" opacity="0.5" filter="url(#bl08)"/>
<path d="M115,128.7 L152,125.7 L152,128.7 L115,131.7Z" fill="#fff" opacity="0.15" filter="url(#bl08)"/>
<ellipse cx="129" cy="146.2" rx="14" ry="1.8" fill="#000" opacity="0.45" filter="url(#bl08)"/>
<rect x="117" y="150.2" width="28" height="2.5" fill="#fff" opacity="0.18" filter="url(#bl08)"/>
<path d="M117,166.2 L154,163.7 L154,169.7 L117,169.7Z" fill="#000" opacity="0.75" filter="url(#bl08)"/>
<rect x="139.6" y="101.7" width="1.6" height="64" fill="#fff" opacity="0.45" filter="url(#bl05)"/>
</g>
<g clip-path="url(#cp35)">
<rect x="158.6" y="89.7" width="41" height="78.9" fill="#fff" filter="url(#texA)"/>
<rect x="158.6" y="89.7" width="41" height="78.9" fill="#8e8e8e" opacity="0.3"/>
<path d="M164.6,101.7 L186.6,98.7 L185.6,129.7 L166.6,130.7Z" fill="#4a4a4a" opacity="0.9" filter="url(#bl25)"/>
<path d="M169.1,127.7 L185.6,127.7 L184.6,166.7 L169.6,166.7Z" fill="#555" opacity="0.78" filter="url(#bl25)"/>
<path d="M156.6,99.9 L201.6,95.5 L201.6,99.10000000000001 L156.6,104.10000000000001Z" fill="#000" opacity="0.72" filter="url(#bl08)"/>
<ellipse cx="177.6" cy="124.30000000000001" rx="10" ry="2.0" fill="#000" opacity="0.5" filter="url(#bl08)"/>
<path d="M162.6,128.7 L199.6,125.7 L199.6,128.7 L162.6,131.7Z" fill="#fff" opacity="0.15" filter="url(#bl08)"/>
<ellipse cx="176.6" cy="146.2" rx="14" ry="1.8" fill="#000" opacity="0.45" filter="url(#bl08)"/>
<rect x="164.6" y="150.2" width="28" height="2.5" fill="#fff" opacity="0.18" filter="url(#bl08)"/>
<path d="M164.6,166.2 L201.6,163.7 L201.6,169.7 L164.6,169.7Z" fill="#000" opacity="0.75" filter="url(#bl08)"/>
<rect x="187.2" y="101.7" width="1.6" height="64" fill="#fff" opacity="0.45" filter="url(#bl05)"/>
<path d="M164.7,104.3 C163.7,104.6 161.8,109.3 161.3,112.1 C160.8,114.9 161.0,118.9 162.0,121.2 C162.9,123.5 165.9,126.7 167.0,126.0 C168.1,125.3 168.5,119.9 168.6,117.3 C168.7,114.8 168.2,112.8 167.6,110.6 C166.9,108.4 165.8,104.0 164.7,104.3Z" fill="url(#lg36)" stroke="#020802" stroke-width="0.7" filter="url(#bl05)"/>
<path d="M185.8,105.5 C186.1,105.8 187.1,108.8 187.3,111.2 C187.4,113.6 187.0,117.5 186.8,119.8 C186.5,122.0 186.1,125.3 185.8,124.5 C185.5,123.7 184.9,117.5 184.8,115.0 C184.7,112.5 185.0,111.3 185.2,109.7 C185.4,108.1 185.4,105.2 185.8,105.5Z" fill="url(#lg37)" filter="url(#bl05)"/>
<g><ellipse cx="163.4" cy="112.6" rx="3.2" ry="3.0" fill="url(#rg38)"/><ellipse cx="165.0" cy="115.2" rx="2.2" ry="2.2" fill="url(#rg39)"/><ellipse cx="166.0" cy="118" rx="1.6" ry="2.4" fill="url(#rg40)"/></g>
</g>
<g clip-path="url(#cp41)">
<rect x="206" y="89.7" width="41" height="78.9" fill="#fff" filter="url(#texA)"/>
<rect x="206" y="89.7" width="41" height="78.9" fill="#8e8e8e" opacity="0.3"/>
<path d="M212,101.7 L234,98.7 L233,129.7 L214,130.7Z" fill="#4a4a4a" opacity="0.9" filter="url(#bl25)"/>
<path d="M216.5,127.7 L233,127.7 L232,166.7 L217,166.7Z" fill="#555" opacity="0.78" filter="url(#bl25)"/>
<path d="M204,99.9 L249,95.5 L249,99.10000000000001 L204,104.10000000000001Z" fill="#000" opacity="0.72" filter="url(#bl08)"/>
<ellipse cx="225" cy="124.30000000000001" rx="10" ry="2.0" fill="#000" opacity="0.5" filter="url(#bl08)"/>
<path d="M210,128.7 L247,125.7 L247,128.7 L210,131.7Z" fill="#fff" opacity="0.15" filter="url(#bl08)"/>
<ellipse cx="224" cy="146.2" rx="14" ry="1.8" fill="#000" opacity="0.45" filter="url(#bl08)"/>
<rect x="212" y="150.2" width="28" height="2.5" fill="#fff" opacity="0.18" filter="url(#bl08)"/>
<path d="M212,166.2 L249,163.7 L249,169.7 L212,169.7Z" fill="#000" opacity="0.75" filter="url(#bl08)"/>
<rect x="234.6" y="101.7" width="1.6" height="64" fill="#fff" opacity="0.45" filter="url(#bl05)"/>
<path d="M210.9,103.0 C209.7,103.3 207.5,108.8 207.0,112.0 C206.5,115.2 206.7,119.8 207.7,122.5 C208.8,125.2 212.2,128.8 213.4,128.0 C214.6,127.2 215.1,121.0 215.2,118.0 C215.3,115.0 214.8,112.8 214.1,110.2 C213.3,107.8 212.0,102.7 210.9,103.0Z" fill="url(#lg42)" stroke="#020802" stroke-width="0.7" filter="url(#bl05)"/>
<path d="M231.2,101.5 C232.2,101.9 235.1,106.1 235.6,109.5 C236.1,112.8 234.8,118.3 234.1,121.4 C233.3,124.5 232.1,129.1 231.2,128.0 C230.2,126.9 228.5,118.2 228.2,114.8 C227.9,111.3 228.9,109.5 229.4,107.3 C229.9,105.1 230.1,101.1 231.2,101.5Z" fill="url(#lg43)" filter="url(#bl05)"/>
<g><ellipse cx="209.4" cy="112.6" rx="3.2" ry="3.0" fill="url(#rg44)"/><ellipse cx="211.0" cy="115.2" rx="2.2" ry="2.2" fill="url(#rg45)"/><ellipse cx="212.0" cy="118" rx="1.6" ry="2.4" fill="url(#rg46)"/></g>
</g>
<g clip-path="url(#cp47)">
<rect x="253.2" y="89.7" width="41" height="78.9" fill="#fff" filter="url(#texA)"/>
<rect x="253.2" y="89.7" width="41" height="78.9" fill="#8e8e8e" opacity="0.3"/>
<path d="M259.2,101.7 L281.2,98.7 L280.2,129.7 L261.2,130.7Z" fill="#4a4a4a" opacity="0.9" filter="url(#bl25)"/>
<path d="M263.7,127.7 L280.2,127.7 L279.2,166.7 L264.2,166.7Z" fill="#555" opacity="0.78" filter="url(#bl25)"/>
<path d="M251.2,99.9 L296.2,95.5 L296.2,99.10000000000001 L251.2,104.10000000000001Z" fill="#000" opacity="0.72" filter="url(#bl08)"/>
<ellipse cx="272.2" cy="124.30000000000001" rx="10" ry="2.0" fill="#000" opacity="0.5" filter="url(#bl08)"/>
<path d="M257.2,128.7 L294.2,125.7 L294.2,128.7 L257.2,131.7Z" fill="#fff" opacity="0.15" filter="url(#bl08)"/>
<ellipse cx="271.2" cy="146.2" rx="14" ry="1.8" fill="#000" opacity="0.45" filter="url(#bl08)"/>
<rect x="259.2" y="150.2" width="28" height="2.5" fill="#fff" opacity="0.18" filter="url(#bl08)"/>
<path d="M259.2,166.2 L296.2,163.7 L296.2,169.7 L259.2,169.7Z" fill="#000" opacity="0.75" filter="url(#bl08)"/>
<rect x="281.8" y="101.7" width="1.6" height="64" fill="#fff" opacity="0.45" filter="url(#bl05)"/>
<path d="M259.5,103.0 C258.3,103.3 256.0,108.1 255.4,111.0 C254.8,113.9 255.0,118.0 256.2,120.4 C257.3,122.8 260.9,126.0 262.3,125.3 C263.6,124.6 264.1,119.0 264.2,116.4 C264.3,113.7 263.7,111.7 263.0,109.5 C262.2,107.2 260.8,102.7 259.5,103.0Z" fill="url(#lg48)" stroke="#020802" stroke-width="0.7" filter="url(#bl05)"/>
<path d="M280.9,103.6 C281.7,103.8 283.9,106.8 284.3,109.1 C284.7,111.4 283.7,115.3 283.1,117.4 C282.5,119.5 281.6,122.8 280.9,122.0 C280.1,121.2 278.8,115.2 278.6,112.8 C278.4,110.4 279.1,109.2 279.5,107.6 C279.9,106.1 280.1,103.4 280.9,103.6Z" fill="url(#lg49)" filter="url(#bl05)"/>
<g><ellipse cx="257.4" cy="112.2" rx="2.9" ry="2.7" fill="url(#rg50)"/><ellipse cx="259.7" cy="118.4" rx="1.7" ry="1.8" fill="url(#rg51)"/><ellipse cx="257" cy="119.9" rx="1.9" ry="1.9" fill="url(#rg52)"/></g>
</g>
<g clip-path="url(#cp53)">
<rect x="300.6" y="89.7" width="41" height="78.9" fill="#fff" filter="url(#texA)"/>
<rect x="300.6" y="89.7" width="41" height="78.9" fill="#8e8e8e" opacity="0.3"/>
<path d="M306.6,101.7 L328.6,98.7 L327.6,129.7 L308.6,130.7Z" fill="#4a4a4a" opacity="0.9" filter="url(#bl25)"/>
<path d="M311.1,127.7 L327.6,127.7 L326.6,166.7 L311.6,166.7Z" fill="#555" opacity="0.78" filter="url(#bl25)"/>
<path d="M298.6,99.9 L343.6,95.5 L343.6,99.10000000000001 L298.6,104.10000000000001Z" fill="#000" opacity="0.72" filter="url(#bl08)"/>
<ellipse cx="319.6" cy="124.30000000000001" rx="10" ry="2.0" fill="#000" opacity="0.5" filter="url(#bl08)"/>
<path d="M304.6,128.7 L341.6,125.7 L341.6,128.7 L304.6,131.7Z" fill="#fff" opacity="0.15" filter="url(#bl08)"/>
<ellipse cx="318.6" cy="146.2" rx="14" ry="1.8" fill="#000" opacity="0.45" filter="url(#bl08)"/>
<rect x="306.6" y="150.2" width="28" height="2.5" fill="#fff" opacity="0.18" filter="url(#bl08)"/>
<path d="M306.6,166.2 L343.6,163.7 L343.6,169.7 L306.6,169.7Z" fill="#000" opacity="0.75" filter="url(#bl08)"/>
<rect x="329.20000000000005" y="101.7" width="1.6" height="64" fill="#fff" opacity="0.45" filter="url(#bl05)"/>
<path d="M305.7,103.0 C304.4,103.3 302.0,108.1 301.4,110.9 C300.8,113.8 301.0,117.8 302.2,120.2 C303.4,122.5 307.2,125.7 308.6,125.0 C310.0,124.3 310.5,118.8 310.6,116.2 C310.7,113.6 310.1,111.6 309.3,109.4 C308.5,107.2 307.0,102.7 305.7,103.0Z" fill="url(#lg54)" stroke="#020802" stroke-width="0.7" filter="url(#bl05)"/>
<path d="M327.5,102.5 C328.3,102.8 330.4,106.1 330.7,108.7 C331.1,111.2 330.1,115.5 329.6,117.9 C329.1,120.3 328.2,123.9 327.5,123.0 C326.8,122.1 325.6,115.4 325.4,112.8 C325.2,110.1 325.9,108.7 326.2,107.0 C326.6,105.3 326.8,102.2 327.5,102.5Z" fill="url(#lg55)" filter="url(#bl05)"/>
<g><ellipse cx="304.4" cy="112.2" rx="3.0" ry="2.4" fill="url(#rg56)"/><ellipse cx="304.8" cy="118.4" rx="3.0" ry="3.0" fill="url(#rg57)"/><ellipse cx="307.9" cy="121.2" rx="1.8" ry="1.8" fill="url(#rg58)"/></g>
</g>
<g clip-path="url(#cp59)">
<rect x="348" y="89.7" width="41" height="78.9" fill="#fff" filter="url(#texA)"/>
<rect x="348" y="89.7" width="41" height="78.9" fill="#8e8e8e" opacity="0.3"/>
<path d="M354,101.7 L376,98.7 L375,129.7 L356,130.7Z" fill="#4a4a4a" opacity="0.9" filter="url(#bl25)"/>
<path d="M358.5,127.7 L375,127.7 L374,166.7 L359,166.7Z" fill="#555" opacity="0.78" filter="url(#bl25)"/>
<path d="M346,99.9 L391,95.5 L391,99.10000000000001 L346,104.10000000000001Z" fill="#000" opacity="0.72" filter="url(#bl08)"/>
<ellipse cx="367" cy="124.30000000000001" rx="10" ry="2.0" fill="#000" opacity="0.5" filter="url(#bl08)"/>
<path d="M352,128.7 L389,125.7 L389,128.7 L352,131.7Z" fill="#fff" opacity="0.15" filter="url(#bl08)"/>
<ellipse cx="366" cy="146.2" rx="14" ry="1.8" fill="#000" opacity="0.45" filter="url(#bl08)"/>
<rect x="354" y="150.2" width="28" height="2.5" fill="#fff" opacity="0.18" filter="url(#bl08)"/>
<path d="M354,166.2 L391,163.7 L391,169.7 L354,169.7Z" fill="#000" opacity="0.75" filter="url(#bl08)"/>
<rect x="376.6" y="101.7" width="1.6" height="64" fill="#fff" opacity="0.45" filter="url(#bl05)"/>
<path d="M352.9,105.5 C351.6,105.7 349.2,109.6 348.6,112.0 C348.0,114.3 348.2,117.6 349.4,119.5 C350.6,121.5 354.3,124.0 355.7,123.5 C357.1,123.0 357.6,118.4 357.7,116.3 C357.8,114.2 357.2,112.5 356.4,110.7 C355.6,108.9 354.2,105.3 352.9,105.5Z" fill="url(#lg60)" stroke="#020802" stroke-width="0.7" filter="url(#bl05)"/>
<path d="M375.9,106.0 C376.2,106.3 377.3,109.6 377.5,112.2 C377.6,114.8 377.2,119.1 376.9,121.5 C376.6,123.9 376.2,127.6 375.9,126.7 C375.5,125.8 374.9,119.0 374.8,116.3 C374.7,113.7 375.0,112.3 375.2,110.6 C375.4,108.8 375.5,105.7 375.9,106.0Z" fill="url(#lg61)" filter="url(#bl05)"/>
<g><ellipse cx="351.6" cy="116.8" rx="3.6" ry="3.6" fill="url(#rg62)"/><ellipse cx="351.5" cy="111.3" rx="2.5" ry="2.2" fill="url(#rg63)"/><ellipse cx="355.8" cy="115.8" rx="1.8" ry="1.8" fill="url(#rg64)"/><ellipse cx="355.8" cy="119.5" rx="1.8" ry="1.8" fill="url(#rg65)"/></g>
</g>
<rect x="394.2" y="8.8" width="3.9" height="32.4" fill="url(#gr)"/>
<rect x="394.2" y="49.2" width="3.9" height="32.3" fill="url(#gg)"/>
<rect x="394.2" y="90.8" width="3.9" height="32.2" fill="url(#gr)"/>
<rect x="394.2" y="132" width="3.9" height="32.4" fill="url(#gg)"/>
<text x="401.6" y="13.8" font-size="8.6" textLength="13.05" lengthAdjust="spacingAndGlyphs" fill="#1a1a1a" >695</text>
<text x="401.6" y="39.7" font-size="8.6" textLength="21.75" lengthAdjust="spacingAndGlyphs" fill="#1a1a1a" >10000</text>
<text x="401.6" y="55" font-size="8.6" textLength="17.4" lengthAdjust="spacingAndGlyphs" fill="#1a1a1a" >2339</text>
<text x="401.6" y="80.4" font-size="8.6" textLength="21.75" lengthAdjust="spacingAndGlyphs" fill="#1a1a1a" >20000</text>
<text x="401.6" y="97.2" font-size="8.6" textLength="13.05" lengthAdjust="spacingAndGlyphs" fill="#1a1a1a" >695</text>
<text x="401.6" y="122" font-size="8.6" textLength="17.4" lengthAdjust="spacingAndGlyphs" fill="#1a1a1a" >1000</text>
<text x="401.6" y="138.5" font-size="8.6" textLength="17.4" lengthAdjust="spacingAndGlyphs" fill="#1a1a1a" >2500</text>
<text x="401.6" y="162.5" font-size="8.6" textLength="17.4" lengthAdjust="spacingAndGlyphs" fill="#1a1a1a" >4500</text>
<text x="110.4" y="179" font-size="8.8" text-anchor="middle" textLength="4.17" lengthAdjust="spacingAndGlyphs" fill="#1a1a1a" >0</text>
<text x="156.5" y="179" font-size="8.8" text-anchor="middle" textLength="8.34" lengthAdjust="spacingAndGlyphs" fill="#1a1a1a" >30</text>
<text x="202.2" y="179" font-size="8.8" text-anchor="middle" textLength="8.34" lengthAdjust="spacingAndGlyphs" fill="#1a1a1a" >60</text>
<text x="249.7" y="179" font-size="8.8" text-anchor="middle" textLength="8.34" lengthAdjust="spacingAndGlyphs" fill="#1a1a1a" >90</text>
<text x="296" y="179" font-size="8.8" text-anchor="middle" textLength="12.51" lengthAdjust="spacingAndGlyphs" fill="#1a1a1a" >120</text>
<text x="344.9" y="179" font-size="8.8" text-anchor="middle" textLength="12.51" lengthAdjust="spacingAndGlyphs" fill="#1a1a1a" >180</text>
<text x="16.3" y="225.7" font-size="11.2" textLength="7.0" lengthAdjust="spacingAndGlyphs" font-weight="bold" fill="#000" >B</text>
<line x1="72.1" y1="221.7" x2="72.1" y2="330.7" stroke="#2a2a2a" stroke-width="1.4"/>
<line x1="69.1" y1="330.00" x2="72.1" y2="330.00" stroke="#2a2a2a" stroke-width="1"/>
<text x="66.5" y="333.0" font-size="8.7" text-anchor="end" textLength="33.8" lengthAdjust="spacingAndGlyphs" fill="#1a1a1a" >0.00E+00</text>
<line x1="69.1" y1="311.96" x2="72.1" y2="311.96" stroke="#2a2a2a" stroke-width="1"/>
<text x="66.5" y="314.96" font-size="8.7" text-anchor="end" textLength="33.8" lengthAdjust="spacingAndGlyphs" fill="#1a1a1a" >2.00E+07</text>
<line x1="69.1" y1="293.92" x2="72.1" y2="293.92" stroke="#2a2a2a" stroke-width="1"/>
<text x="66.5" y="296.92" font-size="8.7" text-anchor="end" textLength="33.8" lengthAdjust="spacingAndGlyphs" fill="#1a1a1a" >4.00E+07</text>
<line x1="69.1" y1="275.88" x2="72.1" y2="275.88" stroke="#2a2a2a" stroke-width="1"/>
<text x="66.5" y="278.88" font-size="8.7" text-anchor="end" textLength="33.8" lengthAdjust="spacingAndGlyphs" fill="#1a1a1a" >6.00E+07</text>
<line x1="69.1" y1="257.84" x2="72.1" y2="257.84" stroke="#2a2a2a" stroke-width="1"/>
<text x="66.5" y="260.84000000000003" font-size="8.7" text-anchor="end" textLength="33.8" lengthAdjust="spacingAndGlyphs" fill="#1a1a1a" >8.00E+07</text>
<line x1="69.1" y1="239.80" x2="72.1" y2="239.80" stroke="#2a2a2a" stroke-width="1"/>
<text x="66.5" y="242.8" font-size="8.7" text-anchor="end" textLength="33.8" lengthAdjust="spacingAndGlyphs" fill="#1a1a1a" >1.00E+08</text>
<line x1="69.1" y1="221.76" x2="72.1" y2="221.76" stroke="#2a2a2a" stroke-width="1"/>
<text x="66.5" y="224.76" font-size="8.7" text-anchor="end" textLength="33.8" lengthAdjust="spacingAndGlyphs" fill="#1a1a1a" >1.20E+08</text>
<line x1="71.39999999999999" y1="330" x2="217" y2="330" stroke="#2a2a2a" stroke-width="1.4"/>
<line x1="72.40" y1="330" x2="72.40" y2="333" stroke="#2a2a2a" stroke-width="1"/>
<text x="72.4" y="342.8" font-size="9.2" text-anchor="middle" textLength="4.27" lengthAdjust="spacingAndGlyphs" fill="#1a1a1a" >0</text>
<line x1="108.60" y1="330" x2="108.60" y2="333" stroke="#2a2a2a" stroke-width="1"/>
<text x="108.60000000000001" y="342.8" font-size="9.2" text-anchor="middle" textLength="8.54" lengthAdjust="spacingAndGlyphs" fill="#1a1a1a" >50</text>
<line x1="144.80" y1="330" x2="144.80" y2="333" stroke="#2a2a2a" stroke-width="1"/>
<text x="144.8" y="342.8" font-size="9.2" text-anchor="middle" textLength="12.81" lengthAdjust="spacingAndGlyphs" fill="#1a1a1a" >100</text>
<line x1="181.00" y1="330" x2="181.00" y2="333" stroke="#2a2a2a" stroke-width="1"/>
<text x="181.0" y="342.8" font-size="9.2" text-anchor="middle" textLength="12.81" lengthAdjust="spacingAndGlyphs" fill="#1a1a1a" >150</text>
<line x1="217.20" y1="330" x2="217.20" y2="333" stroke="#2a2a2a" stroke-width="1"/>
<text x="217.20000000000002" y="342.8" font-size="9.2" text-anchor="middle" textLength="12.81" lengthAdjust="spacingAndGlyphs" fill="#1a1a1a" >200</text>
<text x="144.3" y="356.1" font-size="9" text-anchor="middle" textLength="26" lengthAdjust="spacingAndGlyphs" fill="#1a1a1a" >Time (s)</text>
<text transform="translate(24.4,275.8) rotate(-90)" font-size="8.8" text-anchor="middle" fill="#1a1a1a" textLength="44.5" lengthAdjust="spacingAndGlyphs">Platelet (AFU)</text>
<path d="M71.8,328.5 L75.7,325.4 L83.4,323.0 L88.0,324.6 L95.7,324.6 L100.3,328.0 L108.0,328.0 L114.0,327.0 L120.3,324.6 L125.7,323.0 L132.6,325.4 L140.0,325.0 L148.0,325.4 L159.6,325.8 L167.0,324.1 L172.7,325.3 L189.0,325.4 L197.2,326.6 L208.6,327.0" fill="none" stroke="#de8194" stroke-width="3.2" stroke-linejoin="round" stroke-linecap="round"/>
<path d="M69.7,328.7a1.95,1.95 0 1,0 3.9,0a1.95,1.95 0 1,0 -3.9,0M71.0,327.3a1.95,1.95 0 1,0 3.9,0a1.95,1.95 0 1,0 -3.9,0M72.0,326.3a1.95,1.95 0 1,0 3.9,0a1.95,1.95 0 1,0 -3.9,0M74.3,325.6a1.95,1.95 0 1,0 3.9,0a1.95,1.95 0 1,0 -3.9,0M75.5,325.1a1.95,1.95 0 1,0 3.9,0a1.95,1.95 0 1,0 -3.9,0M76.5,324.7a1.95,1.95 0 1,0 3.9,0a1.95,1.95 0 1,0 -3.9,0M76.9,324.6a1.95,1.95 0 1,0 3.9,0a1.95,1.95 0 1,0 -3.9,0M79.1,324.0a1.95,1.95 0 1,0 3.9,0a1.95,1.95 0 1,0 -3.9,0M79.4,322.6a1.95,1.95 0 1,0 3.9,0a1.95,1.95 0 1,0 -3.9,0M81.0,322.8a1.95,1.95 0 1,0 3.9,0a1.95,1.95 0 1,0 -3.9,0M83.1,323.5a1.95,1.95 0 1,0 3.9,0a1.95,1.95 0 1,0 -3.9,0M84.8,323.8a1.95,1.95 0 1,0 3.9,0a1.95,1.95 0 1,0 -3.9,0M86.2,324.8a1.95,1.95 0 1,0 3.9,0a1.95,1.95 0 1,0 -3.9,0M87.3,325.4a1.95,1.95 0 1,0 3.9,0a1.95,1.95 0 1,0 -3.9,0M89.4,325.1a1.95,1.95 0 1,0 3.9,0a1.95,1.95 0 1,0 -3.9,0M90.4,324.3a1.95,1.95 0 1,0 3.9,0a1.95,1.95 0 1,0 -3.9,0M92.1,324.6a1.95,1.95 0 1,0 3.9,0a1.95,1.95 0 1,0 -3.9,0M94.0,324.7a1.95,1.95 0 1,0 3.9,0a1.95,1.95 0 1,0 -3.9,0M94.7,325.0a1.95,1.95 0 1,0 3.9,0a1.95,1.95 0 1,0 -3.9,0M95.8,326.8a1.95,1.95 0 1,0 3.9,0a1.95,1.95 0 1,0 -3.9,0M96.8,327.3a1.95,1.95 0 1,0 3.9,0a1.95,1.95 0 1,0 -3.9,0M98.5,327.3a1.95,1.95 0 1,0 3.9,0a1.95,1.95 0 1,0 -3.9,0M99.9,328.6a1.95,1.95 0 1,0 3.9,0a1.95,1.95 0 1,0 -3.9,0M100.5,327.9a1.95,1.95 0 1,0 3.9,0a1.95,1.95 0 1,0 -3.9,0M102.9,327.6a1.95,1.95 0 1,0 3.9,0a1.95,1.95 0 1,0 -3.9,0M104.7,328.0a1.95,1.95 0 1,0 3.9,0a1.95,1.95 0 1,0 -3.9,0M105.4,328.4a1.95,1.95 0 1,0 3.9,0a1.95,1.95 0 1,0 -3.9,0M107.9,328.2a1.95,1.95 0 1,0 3.9,0a1.95,1.95 0 1,0 -3.9,0M109.7,327.7a1.95,1.95 0 1,0 3.9,0a1.95,1.95 0 1,0 -3.9,0M110.6,326.7a1.95,1.95 0 1,0 3.9,0a1.95,1.95 0 1,0 -3.9,0M112.3,326.7a1.95,1.95 0 1,0 3.9,0a1.95,1.95 0 1,0 -3.9,0M113.1,326.0a1.95,1.95 0 1,0 3.9,0a1.95,1.95 0 1,0 -3.9,0M114.1,325.8a1.95,1.95 0 1,0 3.9,0a1.95,1.95 0 1,0 -3.9,0M116.4,324.6a1.95,1.95 0 1,0 3.9,0a1.95,1.95 0 1,0 -3.9,0M116.4,325.2a1.95,1.95 0 1,0 3.9,0a1.95,1.95 0 1,0 -3.9,0M119.0,324.9a1.95,1.95 0 1,0 3.9,0a1.95,1.95 0 1,0 -3.9,0M118.8,323.1a1.95,1.95 0 1,0 3.9,0a1.95,1.95 0 1,0 -3.9,0M121.2,323.5a1.95,1.95 0 1,0 3.9,0a1.95,1.95 0 1,0 -3.9,0M121.9,323.8a1.95,1.95 0 1,0 3.9,0a1.95,1.95 0 1,0 -3.9,0M124.2,323.1a1.95,1.95 0 1,0 3.9,0a1.95,1.95 0 1,0 -3.9,0M125.2,323.7a1.95,1.95 0 1,0 3.9,0a1.95,1.95 0 1,0 -3.9,0M127.2,324.2a1.95,1.95 0 1,0 3.9,0a1.95,1.95 0 1,0 -3.9,0M128.1,324.7a1.95,1.95 0 1,0 3.9,0a1.95,1.95 0 1,0 -3.9,0M128.6,325.5a1.95,1.95 0 1,0 3.9,0a1.95,1.95 0 1,0 -3.9,0M131.1,325.6a1.95,1.95 0 1,0 3.9,0a1.95,1.95 0 1,0 -3.9,0M131.2,325.0a1.95,1.95 0 1,0 3.9,0a1.95,1.95 0 1,0 -3.9,0M134.0,324.4a1.95,1.95 0 1,0 3.9,0a1.95,1.95 0 1,0 -3.9,0M135.0,325.6a1.95,1.95 0 1,0 3.9,0a1.95,1.95 0 1,0 -3.9,0M136.0,325.8a1.95,1.95 0 1,0 3.9,0a1.95,1.95 0 1,0 -3.9,0M138.3,324.9a1.95,1.95 0 1,0 3.9,0a1.95,1.95 0 1,0 -3.9,0M139.5,325.4a1.95,1.95 0 1,0 3.9,0a1.95,1.95 0 1,0 -3.9,0M140.8,325.6a1.95,1.95 0 1,0 3.9,0a1.95,1.95 0 1,0 -3.9,0M141.8,325.0a1.95,1.95 0 1,0 3.9,0a1.95,1.95 0 1,0 -3.9,0M143.9,325.3a1.95,1.95 0 1,0 3.9,0a1.95,1.95 0 1,0 -3.9,0M144.3,325.8a1.95,1.95 0 1,0 3.9,0a1.95,1.95 0 1,0 -3.9,0M146.7,325.2a1.95,1.95 0 1,0 3.9,0a1.95,1.95 0 1,0 -3.9,0M146.9,325.4a1.95,1.95 0 1,0 3.9,0a1.95,1.95 0 1,0 -3.9,0M148.9,325.4a1.95,1.95 0 1,0 3.9,0a1.95,1.95 0 1,0 -3.9,0M151.0,325.1a1.95,1.95 0 1,0 3.9,0a1.95,1.95 0 1,0 -3.9,0M152.4,325.0a1.95,1.95 0 1,0 3.9,0a1.95,1.95 0 1,0 -3.9,0M152.9,325.9a1.95,1.95 0 1,0 3.9,0a1.95,1.95 0 1,0 -3.9,0M155.3,326.1a1.95,1.95 0 1,0 3.9,0a1.95,1.95 0 1,0 -3.9,0M156.4,325.8a1.95,1.95 0 1,0 3.9,0a1.95,1.95 0 1,0 -3.9,0M157.7,326.1a1.95,1.95 0 1,0 3.9,0a1.95,1.95 0 1,0 -3.9,0M159.1,325.6a1.95,1.95 0 1,0 3.9,0a1.95,1.95 0 1,0 -3.9,0M160.9,325.1a1.95,1.95 0 1,0 3.9,0a1.95,1.95 0 1,0 -3.9,0M162.4,325.0a1.95,1.95 0 1,0 3.9,0a1.95,1.95 0 1,0 -3.9,0M164.5,324.6a1.95,1.95 0 1,0 3.9,0a1.95,1.95 0 1,0 -3.9,0M164.9,323.9a1.95,1.95 0 1,0 3.9,0a1.95,1.95 0 1,0 -3.9,0M166.5,324.8a1.95,1.95 0 1,0 3.9,0a1.95,1.95 0 1,0 -3.9,0M167.7,324.9a1.95,1.95 0 1,0 3.9,0a1.95,1.95 0 1,0 -3.9,0M170.2,323.8a1.95,1.95 0 1,0 3.9,0a1.95,1.95 0 1,0 -3.9,0M170.2,325.4a1.95,1.95 0 1,0 3.9,0a1.95,1.95 0 1,0 -3.9,0M172.3,325.4a1.95,1.95 0 1,0 3.9,0a1.95,1.95 0 1,0 -3.9,0M173.3,325.6a1.95,1.95 0 1,0 3.9,0a1.95,1.95 0 1,0 -3.9,0M175.0,325.1a1.95,1.95 0 1,0 3.9,0a1.95,1.95 0 1,0 -3.9,0M177.3,325.5a1.95,1.95 0 1,0 3.9,0a1.95,1.95 0 1,0 -3.9,0M177.3,325.3a1.95,1.95 0 1,0 3.9,0a1.95,1.95 0 1,0 -3.9,0M178.8,325.3a1.95,1.95 0 1,0 3.9,0a1.95,1.95 0 1,0 -3.9,0M179.0,325.1a1.95,1.95 0 1,0 3.9,0a1.95,1.95 0 1,0 -3.9,0M182.1,324.8a1.95,1.95 0 1,0 3.9,0a1.95,1.95 0 1,0 -3.9,0M182.9,325.8a1.95,1.95 0 1,0 3.9,0a1.95,1.95 0 1,0 -3.9,0M184.7,326.1a1.95,1.95 0 1,0 3.9,0a1.95,1.95 0 1,0 -3.9,0M184.9,325.2a1.95,1.95 0 1,0 3.9,0a1.95,1.95 0 1,0 -3.9,0M186.9,325.7a1.95,1.95 0 1,0 3.9,0a1.95,1.95 0 1,0 -3.9,0M188.9,324.4a1.95,1.95 0 1,0 3.9,0a1.95,1.95 0 1,0 -3.9,0M190.3,325.1a1.95,1.95 0 1,0 3.9,0a1.95,1.95 0 1,0 -3.9,0M191.5,325.3a1.95,1.95 0 1,0 3.9,0a1.95,1.95 0 1,0 -3.9,0M192.6,326.7a1.95,1.95 0 1,0 3.9,0a1.95,1.95 0 1,0 -3.9,0M193.8,326.5a1.95,1.95 0 1,0 3.9,0a1.95,1.95 0 1,0 -3.9,0M195.6,326.7a1.95,1.95 0 1,0 3.9,0a1.95,1.95 0 1,0 -3.9,0M196.6,327.3a1.95,1.95 0 1,0 3.9,0a1.95,1.95 0 1,0 -3.9,0M198.6,326.6a1.95,1.95 0 1,0 3.9,0a1.95,1.95 0 1,0 -3.9,0M200.8,326.2a1.95,1.95 0 1,0 3.9,0a1.95,1.95 0 1,0 -3.9,0M201.4,326.7a1.95,1.95 0 1,0 3.9,0a1.95,1.95 0 1,0 -3.9,0M202.4,327.2a1.95,1.95 0 1,0 3.9,0a1.95,1.95 0 1,0 -3.9,0M203.9,327.2a1.95,1.95 0 1,0 3.9,0a1.95,1.95 0 1,0 -3.9,0M204.5,326.3a1.95,1.95 0 1,0 3.9,0a1.95,1.95 0 1,0 -3.9,0" fill="#de8194"/>
<path d="M72.6,325.4 L77.2,323.8 L84.2,320.8 L88.0,322.3 L92.6,320.8 L96.5,318.5 L100.3,315.4 L104.2,317.0 L107.2,313.8 L108.8,307.7 L112.6,308.5 L115.0,302.3 L117.2,294.6 L119.5,285.4 L120.6,274.4 L121.1,266.0 L121.7,260.4 L122.5,253.0 L122.9,245.5 L123.4,238.0 L124.3,234.3 L126.0,233.2 L125.7,238.0 L125.3,243.7 L126.2,249.3 L127.6,250.2 L129.0,243.7 L130.0,241.8 L131.3,246.5 L133.7,248.8 L136.5,249.3 L137.9,245.5 L138.8,239.0 L140.2,234.8 L142.0,236.2 L143.0,241.3 L144.4,245.0 L145.3,250.2 L147.2,253.0 L147.6,256.0 L147.2,260.4 L148.1,265.1 L150.4,267.9 L154.2,269.8 L156.0,273.5 L158.0,280.0 L166.2,288.2 L174.3,293.9 L180.9,297.2 L187.4,300.4 L189.0,298.0 L197.2,298.3 L205.4,298.8" fill="none" stroke="#c5122f" stroke-width="3.2" stroke-linejoin="round" stroke-linecap="round"/>
<path d="M70.9,325.0a1.95,1.95 0 1,0 3.9,0a1.95,1.95 0 1,0 -3.9,0M71.7,324.2a1.95,1.95 0 1,0 3.9,0a1.95,1.95 0 1,0 -3.9,0M74.3,324.7a1.95,1.95 0 1,0 3.9,0a1.95,1.95 0 1,0 -3.9,0M75.9,323.4a1.95,1.95 0 1,0 3.9,0a1.95,1.95 0 1,0 -3.9,0M76.7,322.7a1.95,1.95 0 1,0 3.9,0a1.95,1.95 0 1,0 -3.9,0M78.4,323.3a1.95,1.95 0 1,0 3.9,0a1.95,1.95 0 1,0 -3.9,0M79.0,322.7a1.95,1.95 0 1,0 3.9,0a1.95,1.95 0 1,0 -3.9,0M81.3,321.3a1.95,1.95 0 1,0 3.9,0a1.95,1.95 0 1,0 -3.9,0M81.4,321.4a1.95,1.95 0 1,0 3.9,0a1.95,1.95 0 1,0 -3.9,0M83.5,321.0a1.95,1.95 0 1,0 3.9,0a1.95,1.95 0 1,0 -3.9,0M85.0,322.0a1.95,1.95 0 1,0 3.9,0a1.95,1.95 0 1,0 -3.9,0M86.7,321.8a1.95,1.95 0 1,0 3.9,0a1.95,1.95 0 1,0 -3.9,0M88.1,322.5a1.95,1.95 0 1,0 3.9,0a1.95,1.95 0 1,0 -3.9,0M89.8,321.2a1.95,1.95 0 1,0 3.9,0a1.95,1.95 0 1,0 -3.9,0M90.3,321.3a1.95,1.95 0 1,0 3.9,0a1.95,1.95 0 1,0 -3.9,0M92.0,320.1a1.95,1.95 0 1,0 3.9,0a1.95,1.95 0 1,0 -3.9,0M93.9,319.1a1.95,1.95 0 1,0 3.9,0a1.95,1.95 0 1,0 -3.9,0M93.5,318.3a1.95,1.95 0 1,0 3.9,0a1.95,1.95 0 1,0 -3.9,0M95.0,317.8a1.95,1.95 0 1,0 3.9,0a1.95,1.95 0 1,0 -3.9,0M97.2,316.2a1.95,1.95 0 1,0 3.9,0a1.95,1.95 0 1,0 -3.9,0M98.3,315.8a1.95,1.95 0 1,0 3.9,0a1.95,1.95 0 1,0 -3.9,0M99.7,316.5a1.95,1.95 0 1,0 3.9,0a1.95,1.95 0 1,0 -3.9,0M100.9,316.9a1.95,1.95 0 1,0 3.9,0a1.95,1.95 0 1,0 -3.9,0M102.9,317.7a1.95,1.95 0 1,0 3.9,0a1.95,1.95 0 1,0 -3.9,0M102.9,316.3a1.95,1.95 0 1,0 3.9,0a1.95,1.95 0 1,0 -3.9,0M103.4,314.4a1.95,1.95 0 1,0 3.9,0a1.95,1.95 0 1,0 -3.9,0M104.4,314.3a1.95,1.95 0 1,0 3.9,0a1.95,1.95 0 1,0 -3.9,0M105.1,312.3a1.95,1.95 0 1,0 3.9,0a1.95,1.95 0 1,0 -3.9,0M106.0,310.7a1.95,1.95 0 1,0 3.9,0a1.95,1.95 0 1,0 -3.9,0M106.2,309.3a1.95,1.95 0 1,0 3.9,0a1.95,1.95 0 1,0 -3.9,0M107.7,307.7a1.95,1.95 0 1,0 3.9,0a1.95,1.95 0 1,0 -3.9,0M109.0,308.6a1.95,1.95 0 1,0 3.9,0a1.95,1.95 0 1,0 -3.9,0M110.6,307.9a1.95,1.95 0 1,0 3.9,0a1.95,1.95 0 1,0 -3.9,0M110.9,307.7a1.95,1.95 0 1,0 3.9,0a1.95,1.95 0 1,0 -3.9,0M110.9,305.8a1.95,1.95 0 1,0 3.9,0a1.95,1.95 0 1,0 -3.9,0M112.5,305.1a1.95,1.95 0 1,0 3.9,0a1.95,1.95 0 1,0 -3.9,0M112.6,303.9a1.95,1.95 0 1,0 3.9,0a1.95,1.95 0 1,0 -3.9,0M113.1,301.8a1.95,1.95 0 1,0 3.9,0a1.95,1.95 0 1,0 -3.9,0M112.7,300.7a1.95,1.95 0 1,0 3.9,0a1.95,1.95 0 1,0 -3.9,0M114.2,299.5a1.95,1.95 0 1,0 3.9,0a1.95,1.95 0 1,0 -3.9,0M113.7,298.1a1.95,1.95 0 1,0 3.9,0a1.95,1.95 0 1,0 -3.9,0M113.8,297.1a1.95,1.95 0 1,0 3.9,0a1.95,1.95 0 1,0 -3.9,0M114.4,296.0a1.95,1.95 0 1,0 3.9,0a1.95,1.95 0 1,0 -3.9,0M114.2,294.7a1.95,1.95 0 1,0 3.9,0a1.95,1.95 0 1,0 -3.9,0M115.3,292.4a1.95,1.95 0 1,0 3.9,0a1.95,1.95 0 1,0 -3.9,0M116.2,291.8a1.95,1.95 0 1,0 3.9,0a1.95,1.95 0 1,0 -3.9,0M115.2,290.3a1.95,1.95 0 1,0 3.9,0a1.95,1.95 0 1,0 -3.9,0M116.7,289.1a1.95,1.95 0 1,0 3.9,0a1.95,1.95 0 1,0 -3.9,0M117.2,288.4a1.95,1.95 0 1,0 3.9,0a1.95,1.95 0 1,0 -3.9,0M117.5,286.9a1.95,1.95 0 1,0 3.9,0a1.95,1.95 0 1,0 -3.9,0M118.2,285.7a1.95,1.95 0 1,0 3.9,0a1.95,1.95 0 1,0 -3.9,0M117.9,283.1a1.95,1.95 0 1,0 3.9,0a1.95,1.95 0 1,0 -3.9,0M118.2,283.2a1.95,1.95 0 1,0 3.9,0a1.95,1.95 0 1,0 -3.9,0M117.8,281.1a1.95,1.95 0 1,0 3.9,0a1.95,1.95 0 1,0 -3.9,0M119.0,279.1a1.95,1.95 0 1,0 3.9,0a1.95,1.95 0 1,0 -3.9,0M118.4,279.6a1.95,1.95 0 1,0 3.9,0a1.95,1.95 0 1,0 -3.9,0M118.0,277.5a1.95,1.95 0 1,0 3.9,0a1.95,1.95 0 1,0 -3.9,0M119.4,275.7a1.95,1.95 0 1,0 3.9,0a1.95,1.95 0 1,0 -3.9,0M118.9,274.8a1.95,1.95 0 1,0 3.9,0a1.95,1.95 0 1,0 -3.9,0M118.3,273.0a1.95,1.95 0 1,0 3.9,0a1.95,1.95 0 1,0 -3.9,0M118.9,272.0a1.95,1.95 0 1,0 3.9,0a1.95,1.95 0 1,0 -3.9,0M118.9,270.1a1.95,1.95 0 1,0 3.9,0a1.95,1.95 0 1,0 -3.9,0M118.5,268.6a1.95,1.95 0 1,0 3.9,0a1.95,1.95 0 1,0 -3.9,0M119.5,267.4a1.95,1.95 0 1,0 3.9,0a1.95,1.95 0 1,0 -3.9,0M118.8,265.6a1.95,1.95 0 1,0 3.9,0a1.95,1.95 0 1,0 -3.9,0M120.5,265.1a1.95,1.95 0 1,0 3.9,0a1.95,1.95 0 1,0 -3.9,0M119.7,262.0a1.95,1.95 0 1,0 3.9,0a1.95,1.95 0 1,0 -3.9,0M119.9,262.0a1.95,1.95 0 1,0 3.9,0a1.95,1.95 0 1,0 -3.9,0M120.5,260.6a1.95,1.95 0 1,0 3.9,0a1.95,1.95 0 1,0 -3.9,0M119.9,259.2a1.95,1.95 0 1,0 3.9,0a1.95,1.95 0 1,0 -3.9,0M119.2,257.9a1.95,1.95 0 1,0 3.9,0a1.95,1.95 0 1,0 -3.9,0M120.4,255.6a1.95,1.95 0 1,0 3.9,0a1.95,1.95 0 1,0 -3.9,0M121.0,255.3a1.95,1.95 0 1,0 3.9,0a1.95,1.95 0 1,0 -3.9,0M119.9,252.7a1.95,1.95 0 1,0 3.9,0a1.95,1.95 0 1,0 -3.9,0M120.8,251.6a1.95,1.95 0 1,0 3.9,0a1.95,1.95 0 1,0 -3.9,0M120.5,249.6a1.95,1.95 0 1,0 3.9,0a1.95,1.95 0 1,0 -3.9,0M121.7,249.0a1.95,1.95 0 1,0 3.9,0a1.95,1.95 0 1,0 -3.9,0M120.3,246.4a1.95,1.95 0 1,0 3.9,0a1.95,1.95 0 1,0 -3.9,0M121.7,245.9a1.95,1.95 0 1,0 3.9,0a1.95,1.95 0 1,0 -3.9,0M121.9,244.4a1.95,1.95 0 1,0 3.9,0a1.95,1.95 0 1,0 -3.9,0M120.8,242.6a1.95,1.95 0 1,0 3.9,0a1.95,1.95 0 1,0 -3.9,0M120.3,240.7a1.95,1.95 0 1,0 3.9,0a1.95,1.95 0 1,0 -3.9,0M121.3,239.7a1.95,1.95 0 1,0 3.9,0a1.95,1.95 0 1,0 -3.9,0M121.1,237.9a1.95,1.95 0 1,0 3.9,0a1.95,1.95 0 1,0 -3.9,0M122.1,236.3a1.95,1.95 0 1,0 3.9,0a1.95,1.95 0 1,0 -3.9,0M122.6,234.4a1.95,1.95 0 1,0 3.9,0a1.95,1.95 0 1,0 -3.9,0M123.9,233.6a1.95,1.95 0 1,0 3.9,0a1.95,1.95 0 1,0 -3.9,0M124.0,234.4a1.95,1.95 0 1,0 3.9,0a1.95,1.95 0 1,0 -3.9,0M123.6,236.4a1.95,1.95 0 1,0 3.9,0a1.95,1.95 0 1,0 -3.9,0M123.7,238.1a1.95,1.95 0 1,0 3.9,0a1.95,1.95 0 1,0 -3.9,0M123.6,239.5a1.95,1.95 0 1,0 3.9,0a1.95,1.95 0 1,0 -3.9,0M123.5,240.3a1.95,1.95 0 1,0 3.9,0a1.95,1.95 0 1,0 -3.9,0M123.6,242.7a1.95,1.95 0 1,0 3.9,0a1.95,1.95 0 1,0 -3.9,0M123.5,243.6a1.95,1.95 0 1,0 3.9,0a1.95,1.95 0 1,0 -3.9,0M123.8,244.7a1.95,1.95 0 1,0 3.9,0a1.95,1.95 0 1,0 -3.9,0M122.9,246.5a1.95,1.95 0 1,0 3.9,0a1.95,1.95 0 1,0 -3.9,0M123.6,248.2a1.95,1.95 0 1,0 3.9,0a1.95,1.95 0 1,0 -3.9,0M123.8,248.1a1.95,1.95 0 1,0 3.9,0a1.95,1.95 0 1,0 -3.9,0M125.2,250.9a1.95,1.95 0 1,0 3.9,0a1.95,1.95 0 1,0 -3.9,0M125.8,248.3a1.95,1.95 0 1,0 3.9,0a1.95,1.95 0 1,0 -3.9,0M125.9,247.8a1.95,1.95 0 1,0 3.9,0a1.95,1.95 0 1,0 -3.9,0M126.7,246.4a1.95,1.95 0 1,0 3.9,0a1.95,1.95 0 1,0 -3.9,0M127.4,245.3a1.95,1.95 0 1,0 3.9,0a1.95,1.95 0 1,0 -3.9,0M127.0,244.0a1.95,1.95 0 1,0 3.9,0a1.95,1.95 0 1,0 -3.9,0M128.8,242.2a1.95,1.95 0 1,0 3.9,0a1.95,1.95 0 1,0 -3.9,0M128.9,242.9a1.95,1.95 0 1,0 3.9,0a1.95,1.95 0 1,0 -3.9,0M128.8,245.3a1.95,1.95 0 1,0 3.9,0a1.95,1.95 0 1,0 -3.9,0M129.2,247.0a1.95,1.95 0 1,0 3.9,0a1.95,1.95 0 1,0 -3.9,0M130.8,248.1a1.95,1.95 0 1,0 3.9,0a1.95,1.95 0 1,0 -3.9,0M131.7,249.9a1.95,1.95 0 1,0 3.9,0a1.95,1.95 0 1,0 -3.9,0M133.7,249.0a1.95,1.95 0 1,0 3.9,0a1.95,1.95 0 1,0 -3.9,0M134.6,250.5a1.95,1.95 0 1,0 3.9,0a1.95,1.95 0 1,0 -3.9,0M134.9,248.4a1.95,1.95 0 1,0 3.9,0a1.95,1.95 0 1,0 -3.9,0M135.9,246.8a1.95,1.95 0 1,0 3.9,0a1.95,1.95 0 1,0 -3.9,0M135.4,245.6a1.95,1.95 0 1,0 3.9,0a1.95,1.95 0 1,0 -3.9,0M136.3,244.7a1.95,1.95 0 1,0 3.9,0a1.95,1.95 0 1,0 -3.9,0M136.7,242.9a1.95,1.95 0 1,0 3.9,0a1.95,1.95 0 1,0 -3.9,0M136.9,241.8a1.95,1.95 0 1,0 3.9,0a1.95,1.95 0 1,0 -3.9,0M136.8,240.3a1.95,1.95 0 1,0 3.9,0a1.95,1.95 0 1,0 -3.9,0M136.7,239.3a1.95,1.95 0 1,0 3.9,0a1.95,1.95 0 1,0 -3.9,0M136.8,237.3a1.95,1.95 0 1,0 3.9,0a1.95,1.95 0 1,0 -3.9,0M137.8,235.5a1.95,1.95 0 1,0 3.9,0a1.95,1.95 0 1,0 -3.9,0M138.1,233.9a1.95,1.95 0 1,0 3.9,0a1.95,1.95 0 1,0 -3.9,0M139.7,236.5a1.95,1.95 0 1,0 3.9,0a1.95,1.95 0 1,0 -3.9,0M140.6,237.9a1.95,1.95 0 1,0 3.9,0a1.95,1.95 0 1,0 -3.9,0M140.6,239.0a1.95,1.95 0 1,0 3.9,0a1.95,1.95 0 1,0 -3.9,0M141.9,241.5a1.95,1.95 0 1,0 3.9,0a1.95,1.95 0 1,0 -3.9,0M142.0,242.1a1.95,1.95 0 1,0 3.9,0a1.95,1.95 0 1,0 -3.9,0M141.9,242.9a1.95,1.95 0 1,0 3.9,0a1.95,1.95 0 1,0 -3.9,0M142.8,245.4a1.95,1.95 0 1,0 3.9,0a1.95,1.95 0 1,0 -3.9,0M141.8,246.3a1.95,1.95 0 1,0 3.9,0a1.95,1.95 0 1,0 -3.9,0M143.2,246.8a1.95,1.95 0 1,0 3.9,0a1.95,1.95 0 1,0 -3.9,0M142.3,248.4a1.95,1.95 0 1,0 3.9,0a1.95,1.95 0 1,0 -3.9,0M143.1,249.6a1.95,1.95 0 1,0 3.9,0a1.95,1.95 0 1,0 -3.9,0M144.3,251.7a1.95,1.95 0 1,0 3.9,0a1.95,1.95 0 1,0 -3.9,0M145.5,253.3a1.95,1.95 0 1,0 3.9,0a1.95,1.95 0 1,0 -3.9,0M146.1,255.0a1.95,1.95 0 1,0 3.9,0a1.95,1.95 0 1,0 -3.9,0M145.1,255.8a1.95,1.95 0 1,0 3.9,0a1.95,1.95 0 1,0 -3.9,0M145.0,257.0a1.95,1.95 0 1,0 3.9,0a1.95,1.95 0 1,0 -3.9,0M145.3,258.9a1.95,1.95 0 1,0 3.9,0a1.95,1.95 0 1,0 -3.9,0M145.5,259.7a1.95,1.95 0 1,0 3.9,0a1.95,1.95 0 1,0 -3.9,0M145.0,262.0a1.95,1.95 0 1,0 3.9,0a1.95,1.95 0 1,0 -3.9,0M145.8,263.4a1.95,1.95 0 1,0 3.9,0a1.95,1.95 0 1,0 -3.9,0M146.1,264.8a1.95,1.95 0 1,0 3.9,0a1.95,1.95 0 1,0 -3.9,0M147.6,266.7a1.95,1.95 0 1,0 3.9,0a1.95,1.95 0 1,0 -3.9,0M148.4,267.6a1.95,1.95 0 1,0 3.9,0a1.95,1.95 0 1,0 -3.9,0M149.6,267.3a1.95,1.95 0 1,0 3.9,0a1.95,1.95 0 1,0 -3.9,0M150.5,269.2a1.95,1.95 0 1,0 3.9,0a1.95,1.95 0 1,0 -3.9,0M151.6,269.9a1.95,1.95 0 1,0 3.9,0a1.95,1.95 0 1,0 -3.9,0M152.9,270.4a1.95,1.95 0 1,0 3.9,0a1.95,1.95 0 1,0 -3.9,0M153.3,272.1a1.95,1.95 0 1,0 3.9,0a1.95,1.95 0 1,0 -3.9,0M154.3,273.8a1.95,1.95 0 1,0 3.9,0a1.95,1.95 0 1,0 -3.9,0M154.4,274.4a1.95,1.95 0 1,0 3.9,0a1.95,1.95 0 1,0 -3.9,0M154.8,276.1a1.95,1.95 0 1,0 3.9,0a1.95,1.95 0 1,0 -3.9,0M155.6,277.5a1.95,1.95 0 1,0 3.9,0a1.95,1.95 0 1,0 -3.9,0M155.3,278.1a1.95,1.95 0 1,0 3.9,0a1.95,1.95 0 1,0 -3.9,0M155.9,279.7a1.95,1.95 0 1,0 3.9,0a1.95,1.95 0 1,0 -3.9,0M156.6,281.0a1.95,1.95 0 1,0 3.9,0a1.95,1.95 0 1,0 -3.9,0M157.9,282.1a1.95,1.95 0 1,0 3.9,0a1.95,1.95 0 1,0 -3.9,0M159.4,282.9a1.95,1.95 0 1,0 3.9,0a1.95,1.95 0 1,0 -3.9,0M161.2,284.0a1.95,1.95 0 1,0 3.9,0a1.95,1.95 0 1,0 -3.9,0M161.7,285.2a1.95,1.95 0 1,0 3.9,0a1.95,1.95 0 1,0 -3.9,0M162.7,285.1a1.95,1.95 0 1,0 3.9,0a1.95,1.95 0 1,0 -3.9,0M162.9,287.3a1.95,1.95 0 1,0 3.9,0a1.95,1.95 0 1,0 -3.9,0M164.5,289.3a1.95,1.95 0 1,0 3.9,0a1.95,1.95 0 1,0 -3.9,0M165.6,289.6a1.95,1.95 0 1,0 3.9,0a1.95,1.95 0 1,0 -3.9,0M166.9,290.3a1.95,1.95 0 1,0 3.9,0a1.95,1.95 0 1,0 -3.9,0M168.0,290.6a1.95,1.95 0 1,0 3.9,0a1.95,1.95 0 1,0 -3.9,0M169.1,291.0a1.95,1.95 0 1,0 3.9,0a1.95,1.95 0 1,0 -3.9,0M170.6,291.8a1.95,1.95 0 1,0 3.9,0a1.95,1.95 0 1,0 -3.9,0M171.3,294.0a1.95,1.95 0 1,0 3.9,0a1.95,1.95 0 1,0 -3.9,0M172.2,293.9a1.95,1.95 0 1,0 3.9,0a1.95,1.95 0 1,0 -3.9,0M174.2,294.6a1.95,1.95 0 1,0 3.9,0a1.95,1.95 0 1,0 -3.9,0M174.6,295.3a1.95,1.95 0 1,0 3.9,0a1.95,1.95 0 1,0 -3.9,0M176.6,296.2a1.95,1.95 0 1,0 3.9,0a1.95,1.95 0 1,0 -3.9,0M177.3,297.3a1.95,1.95 0 1,0 3.9,0a1.95,1.95 0 1,0 -3.9,0M179.7,297.2a1.95,1.95 0 1,0 3.9,0a1.95,1.95 0 1,0 -3.9,0M180.4,297.6a1.95,1.95 0 1,0 3.9,0a1.95,1.95 0 1,0 -3.9,0M182.2,298.2a1.95,1.95 0 1,0 3.9,0a1.95,1.95 0 1,0 -3.9,0M183.2,298.9a1.95,1.95 0 1,0 3.9,0a1.95,1.95 0 1,0 -3.9,0M183.8,300.1a1.95,1.95 0 1,0 3.9,0a1.95,1.95 0 1,0 -3.9,0M186.1,300.4a1.95,1.95 0 1,0 3.9,0a1.95,1.95 0 1,0 -3.9,0M185.9,299.6a1.95,1.95 0 1,0 3.9,0a1.95,1.95 0 1,0 -3.9,0M187.0,298.1a1.95,1.95 0 1,0 3.9,0a1.95,1.95 0 1,0 -3.9,0M189.1,298.6a1.95,1.95 0 1,0 3.9,0a1.95,1.95 0 1,0 -3.9,0M189.5,299.1a1.95,1.95 0 1,0 3.9,0a1.95,1.95 0 1,0 -3.9,0M191.2,298.5a1.95,1.95 0 1,0 3.9,0a1.95,1.95 0 1,0 -3.9,0M192.2,298.2a1.95,1.95 0 1,0 3.9,0a1.95,1.95 0 1,0 -3.9,0M193.1,299.1a1.95,1.95 0 1,0 3.9,0a1.95,1.95 0 1,0 -3.9,0M195.9,297.8a1.95,1.95 0 1,0 3.9,0a1.95,1.95 0 1,0 -3.9,0M195.9,297.7a1.95,1.95 0 1,0 3.9,0a1.95,1.95 0 1,0 -3.9,0M198.5,298.3a1.95,1.95 0 1,0 3.9,0a1.95,1.95 0 1,0 -3.9,0M199.3,298.4a1.95,1.95 0 1,0 3.9,0a1.95,1.95 0 1,0 -3.9,0M200.7,298.1a1.95,1.95 0 1,0 3.9,0a1.95,1.95 0 1,0 -3.9,0M202.1,298.1a1.95,1.95 0 1,0 3.9,0a1.95,1.95 0 1,0 -3.9,0" fill="#c5122f"/>
<text x="281.2" y="226" font-size="11.2" textLength="8.0" lengthAdjust="spacingAndGlyphs" font-weight="bold" fill="#000" >C</text>
<line x1="337.2" y1="221.9" x2="337.2" y2="330.7" stroke="#2a2a2a" stroke-width="1.4"/>
<line x1="334.2" y1="330.00" x2="337.2" y2="330.00" stroke="#2a2a2a" stroke-width="1"/>
<text x="330.2" y="333.0" font-size="8.7" text-anchor="end" textLength="33.8" lengthAdjust="spacingAndGlyphs" fill="#1a1a1a" >0.00E+07</text>
<line x1="334.2" y1="314.56" x2="337.2" y2="314.56" stroke="#2a2a2a" stroke-width="1"/>
<text x="330.2" y="317.56" font-size="8.7" text-anchor="end" textLength="33.8" lengthAdjust="spacingAndGlyphs" fill="#1a1a1a" >1.00E+07</text>
<line x1="334.2" y1="299.12" x2="337.2" y2="299.12" stroke="#2a2a2a" stroke-width="1"/>
<text x="330.2" y="302.12" font-size="8.7" text-anchor="end" textLength="33.8" lengthAdjust="spacingAndGlyphs" fill="#1a1a1a" >2.00E+07</text>
<line x1="334.2" y1="283.68" x2="337.2" y2="283.68" stroke="#2a2a2a" stroke-width="1"/>
<text x="330.2" y="286.68" font-size="8.7" text-anchor="end" textLength="33.8" lengthAdjust="spacingAndGlyphs" fill="#1a1a1a" >3.00E+07</text>
<line x1="334.2" y1="268.24" x2="337.2" y2="268.24" stroke="#2a2a2a" stroke-width="1"/>
<text x="330.2" y="271.24" font-size="8.7" text-anchor="end" textLength="33.8" lengthAdjust="spacingAndGlyphs" fill="#1a1a1a" >4.00E+07</text>
<line x1="334.2" y1="252.80" x2="337.2" y2="252.80" stroke="#2a2a2a" stroke-width="1"/>
<text x="330.2" y="255.8" font-size="8.7" text-anchor="end" textLength="33.8" lengthAdjust="spacingAndGlyphs" fill="#1a1a1a" >5.00E+07</text>
<line x1="334.2" y1="237.36" x2="337.2" y2="237.36" stroke="#2a2a2a" stroke-width="1"/>
<text x="330.2" y="240.36" font-size="8.7" text-anchor="end" textLength="33.8" lengthAdjust="spacingAndGlyphs" fill="#1a1a1a" >6.00E+07</text>
<line x1="334.2" y1="221.92" x2="337.2" y2="221.92" stroke="#2a2a2a" stroke-width="1"/>
<text x="330.2" y="224.92000000000002" font-size="8.7" text-anchor="end" textLength="33.8" lengthAdjust="spacingAndGlyphs" fill="#1a1a1a" >7.00E+07</text>
<line x1="336.5" y1="330" x2="497.6" y2="330" stroke="#2a2a2a" stroke-width="1.4"/>
<line x1="337.20" y1="330" x2="337.20" y2="333" stroke="#2a2a2a" stroke-width="1"/>
<text x="337.2" y="342.8" font-size="9.2" text-anchor="middle" textLength="4.27" lengthAdjust="spacingAndGlyphs" fill="#1a1a1a" >0</text>
<line x1="377.30" y1="330" x2="377.30" y2="333" stroke="#2a2a2a" stroke-width="1"/>
<text x="377.3" y="342.8" font-size="9.2" text-anchor="middle" textLength="8.54" lengthAdjust="spacingAndGlyphs" fill="#1a1a1a" >50</text>
<line x1="417.40" y1="330" x2="417.40" y2="333" stroke="#2a2a2a" stroke-width="1"/>
<text x="417.4" y="342.8" font-size="9.2" text-anchor="middle" textLength="12.81" lengthAdjust="spacingAndGlyphs" fill="#1a1a1a" >100</text>
<line x1="457.50" y1="330" x2="457.50" y2="333" stroke="#2a2a2a" stroke-width="1"/>
<text x="457.5" y="342.8" font-size="9.2" text-anchor="middle" textLength="12.81" lengthAdjust="spacingAndGlyphs" fill="#1a1a1a" >150</text>
<line x1="497.60" y1="330" x2="497.60" y2="333" stroke="#2a2a2a" stroke-width="1"/>
<text x="497.6" y="342.8" font-size="9.2" text-anchor="middle" textLength="12.81" lengthAdjust="spacingAndGlyphs" fill="#1a1a1a" >200</text>
<text x="416.6" y="356.1" font-size="9" text-anchor="middle" textLength="26" lengthAdjust="spacingAndGlyphs" fill="#1a1a1a" >Time (s)</text>
<text transform="translate(289.8,275.3) rotate(-90)" font-size="8.8" text-anchor="middle" fill="#1a1a1a" textLength="39.3" lengthAdjust="spacingAndGlyphs">Fibrin (AFU)</text>
<path d="M337.2,318.0 L337.2,310.7 L339.5,299.4 L342.0,304.6 L344.7,311.5 L347.3,307.2 L350.8,308.0 L356.0,311.5 L361.2,314.5 L365.0,312.5 L370.0,306.3 L377.5,303.8 L383.8,300.8 L392.5,299.3 L400.0,298.0 L407.5,298.8 L412.5,296.3 L420.0,292.5 L430.0,288.8 L440.0,287.5 L450.0,286.3 L460.0,286.3 L472.5,287.0 L482.5,287.5 L483.8,291.5 L486.0,287.0 L488.5,286.3" fill="none" stroke="#7bb3a1" stroke-width="3.8" stroke-linejoin="round" stroke-linecap="round"/>
<path d="M334.9,318.1a2.3,2.3 0 1,0 4.6,0a2.3,2.3 0 1,0 -4.6,0M335.1,316.4a2.3,2.3 0 1,0 4.6,0a2.3,2.3 0 1,0 -4.6,0M334.5,315.2a2.3,2.3 0 1,0 4.6,0a2.3,2.3 0 1,0 -4.6,0M334.7,314.3a2.3,2.3 0 1,0 4.6,0a2.3,2.3 0 1,0 -4.6,0M335.2,312.1a2.3,2.3 0 1,0 4.6,0a2.3,2.3 0 1,0 -4.6,0M334.7,310.4a2.3,2.3 0 1,0 4.6,0a2.3,2.3 0 1,0 -4.6,0M334.8,309.1a2.3,2.3 0 1,0 4.6,0a2.3,2.3 0 1,0 -4.6,0M335.6,308.1a2.3,2.3 0 1,0 4.6,0a2.3,2.3 0 1,0 -4.6,0M336.0,307.4a2.3,2.3 0 1,0 4.6,0a2.3,2.3 0 1,0 -4.6,0M335.7,305.1a2.3,2.3 0 1,0 4.6,0a2.3,2.3 0 1,0 -4.6,0M337.6,302.8a2.3,2.3 0 1,0 4.6,0a2.3,2.3 0 1,0 -4.6,0M336.4,302.3a2.3,2.3 0 1,0 4.6,0a2.3,2.3 0 1,0 -4.6,0M337.0,301.0a2.3,2.3 0 1,0 4.6,0a2.3,2.3 0 1,0 -4.6,0M337.1,299.6a2.3,2.3 0 1,0 4.6,0a2.3,2.3 0 1,0 -4.6,0M337.8,301.0a2.3,2.3 0 1,0 4.6,0a2.3,2.3 0 1,0 -4.6,0M337.6,301.6a2.3,2.3 0 1,0 4.6,0a2.3,2.3 0 1,0 -4.6,0M339.1,302.8a2.3,2.3 0 1,0 4.6,0a2.3,2.3 0 1,0 -4.6,0M339.2,304.9a2.3,2.3 0 1,0 4.6,0a2.3,2.3 0 1,0 -4.6,0M339.9,306.3a2.3,2.3 0 1,0 4.6,0a2.3,2.3 0 1,0 -4.6,0M341.1,307.5a2.3,2.3 0 1,0 4.6,0a2.3,2.3 0 1,0 -4.6,0M341.5,308.7a2.3,2.3 0 1,0 4.6,0a2.3,2.3 0 1,0 -4.6,0M341.2,310.1a2.3,2.3 0 1,0 4.6,0a2.3,2.3 0 1,0 -4.6,0M342.6,311.3a2.3,2.3 0 1,0 4.6,0a2.3,2.3 0 1,0 -4.6,0M343.2,310.4a2.3,2.3 0 1,0 4.6,0a2.3,2.3 0 1,0 -4.6,0M343.7,308.9a2.3,2.3 0 1,0 4.6,0a2.3,2.3 0 1,0 -4.6,0M345.8,307.0a2.3,2.3 0 1,0 4.6,0a2.3,2.3 0 1,0 -4.6,0M346.8,307.5a2.3,2.3 0 1,0 4.6,0a2.3,2.3 0 1,0 -4.6,0M349.2,308.1a2.3,2.3 0 1,0 4.6,0a2.3,2.3 0 1,0 -4.6,0M350.2,308.6a2.3,2.3 0 1,0 4.6,0a2.3,2.3 0 1,0 -4.6,0M351.1,309.7a2.3,2.3 0 1,0 4.6,0a2.3,2.3 0 1,0 -4.6,0M351.6,311.3a2.3,2.3 0 1,0 4.6,0a2.3,2.3 0 1,0 -4.6,0M354.1,310.7a2.3,2.3 0 1,0 4.6,0a2.3,2.3 0 1,0 -4.6,0M355.3,312.2a2.3,2.3 0 1,0 4.6,0a2.3,2.3 0 1,0 -4.6,0M356.5,313.2a2.3,2.3 0 1,0 4.6,0a2.3,2.3 0 1,0 -4.6,0M356.9,313.7a2.3,2.3 0 1,0 4.6,0a2.3,2.3 0 1,0 -4.6,0M359.6,314.2a2.3,2.3 0 1,0 4.6,0a2.3,2.3 0 1,0 -4.6,0M359.7,313.2a2.3,2.3 0 1,0 4.6,0a2.3,2.3 0 1,0 -4.6,0M360.9,313.3a2.3,2.3 0 1,0 4.6,0a2.3,2.3 0 1,0 -4.6,0M363.5,312.7a2.3,2.3 0 1,0 4.6,0a2.3,2.3 0 1,0 -4.6,0M363.6,312.5a2.3,2.3 0 1,0 4.6,0a2.3,2.3 0 1,0 -4.6,0M364.1,310.1a2.3,2.3 0 1,0 4.6,0a2.3,2.3 0 1,0 -4.6,0M365.4,309.6a2.3,2.3 0 1,0 4.6,0a2.3,2.3 0 1,0 -4.6,0M365.6,307.8a2.3,2.3 0 1,0 4.6,0a2.3,2.3 0 1,0 -4.6,0M367.0,307.4a2.3,2.3 0 1,0 4.6,0a2.3,2.3 0 1,0 -4.6,0M367.1,306.2a2.3,2.3 0 1,0 4.6,0a2.3,2.3 0 1,0 -4.6,0M368.7,306.1a2.3,2.3 0 1,0 4.6,0a2.3,2.3 0 1,0 -4.6,0M370.1,305.4a2.3,2.3 0 1,0 4.6,0a2.3,2.3 0 1,0 -4.6,0M371.3,305.5a2.3,2.3 0 1,0 4.6,0a2.3,2.3 0 1,0 -4.6,0M373.3,304.5a2.3,2.3 0 1,0 4.6,0a2.3,2.3 0 1,0 -4.6,0M374.3,303.9a2.3,2.3 0 1,0 4.6,0a2.3,2.3 0 1,0 -4.6,0M375.2,304.1a2.3,2.3 0 1,0 4.6,0a2.3,2.3 0 1,0 -4.6,0M377.1,303.0a2.3,2.3 0 1,0 4.6,0a2.3,2.3 0 1,0 -4.6,0M377.7,302.7a2.3,2.3 0 1,0 4.6,0a2.3,2.3 0 1,0 -4.6,0M378.3,302.0a2.3,2.3 0 1,0 4.6,0a2.3,2.3 0 1,0 -4.6,0M379.9,301.6a2.3,2.3 0 1,0 4.6,0a2.3,2.3 0 1,0 -4.6,0M381.0,299.9a2.3,2.3 0 1,0 4.6,0a2.3,2.3 0 1,0 -4.6,0M383.0,300.7a2.3,2.3 0 1,0 4.6,0a2.3,2.3 0 1,0 -4.6,0M384.2,300.7a2.3,2.3 0 1,0 4.6,0a2.3,2.3 0 1,0 -4.6,0M385.7,299.8a2.3,2.3 0 1,0 4.6,0a2.3,2.3 0 1,0 -4.6,0M387.5,299.1a2.3,2.3 0 1,0 4.6,0a2.3,2.3 0 1,0 -4.6,0M388.4,299.5a2.3,2.3 0 1,0 4.6,0a2.3,2.3 0 1,0 -4.6,0M390.6,299.2a2.3,2.3 0 1,0 4.6,0a2.3,2.3 0 1,0 -4.6,0M391.8,298.7a2.3,2.3 0 1,0 4.6,0a2.3,2.3 0 1,0 -4.6,0M393.3,299.5a2.3,2.3 0 1,0 4.6,0a2.3,2.3 0 1,0 -4.6,0M394.4,299.6a2.3,2.3 0 1,0 4.6,0a2.3,2.3 0 1,0 -4.6,0M395.9,298.3a2.3,2.3 0 1,0 4.6,0a2.3,2.3 0 1,0 -4.6,0M397.8,298.5a2.3,2.3 0 1,0 4.6,0a2.3,2.3 0 1,0 -4.6,0M398.6,297.2a2.3,2.3 0 1,0 4.6,0a2.3,2.3 0 1,0 -4.6,0M401.0,298.7a2.3,2.3 0 1,0 4.6,0a2.3,2.3 0 1,0 -4.6,0M402.5,299.7a2.3,2.3 0 1,0 4.6,0a2.3,2.3 0 1,0 -4.6,0M403.8,298.8a2.3,2.3 0 1,0 4.6,0a2.3,2.3 0 1,0 -4.6,0M405.6,299.0a2.3,2.3 0 1,0 4.6,0a2.3,2.3 0 1,0 -4.6,0M407.2,297.6a2.3,2.3 0 1,0 4.6,0a2.3,2.3 0 1,0 -4.6,0M407.5,296.0a2.3,2.3 0 1,0 4.6,0a2.3,2.3 0 1,0 -4.6,0M409.3,296.8a2.3,2.3 0 1,0 4.6,0a2.3,2.3 0 1,0 -4.6,0M410.6,297.3a2.3,2.3 0 1,0 4.6,0a2.3,2.3 0 1,0 -4.6,0M411.4,295.6a2.3,2.3 0 1,0 4.6,0a2.3,2.3 0 1,0 -4.6,0M412.5,294.7a2.3,2.3 0 1,0 4.6,0a2.3,2.3 0 1,0 -4.6,0M413.7,294.7a2.3,2.3 0 1,0 4.6,0a2.3,2.3 0 1,0 -4.6,0M415.2,293.8a2.3,2.3 0 1,0 4.6,0a2.3,2.3 0 1,0 -4.6,0M416.4,293.5a2.3,2.3 0 1,0 4.6,0a2.3,2.3 0 1,0 -4.6,0M417.9,292.4a2.3,2.3 0 1,0 4.6,0a2.3,2.3 0 1,0 -4.6,0M419.2,292.0a2.3,2.3 0 1,0 4.6,0a2.3,2.3 0 1,0 -4.6,0M419.7,292.2a2.3,2.3 0 1,0 4.6,0a2.3,2.3 0 1,0 -4.6,0M421.7,290.7a2.3,2.3 0 1,0 4.6,0a2.3,2.3 0 1,0 -4.6,0M423.2,290.8a2.3,2.3 0 1,0 4.6,0a2.3,2.3 0 1,0 -4.6,0M423.2,290.9a2.3,2.3 0 1,0 4.6,0a2.3,2.3 0 1,0 -4.6,0M425.4,290.1a2.3,2.3 0 1,0 4.6,0a2.3,2.3 0 1,0 -4.6,0M426.5,289.2a2.3,2.3 0 1,0 4.6,0a2.3,2.3 0 1,0 -4.6,0M427.0,289.2a2.3,2.3 0 1,0 4.6,0a2.3,2.3 0 1,0 -4.6,0M429.1,288.5a2.3,2.3 0 1,0 4.6,0a2.3,2.3 0 1,0 -4.6,0M430.7,288.5a2.3,2.3 0 1,0 4.6,0a2.3,2.3 0 1,0 -4.6,0M432.3,288.1a2.3,2.3 0 1,0 4.6,0a2.3,2.3 0 1,0 -4.6,0M433.4,287.1a2.3,2.3 0 1,0 4.6,0a2.3,2.3 0 1,0 -4.6,0M434.7,288.2a2.3,2.3 0 1,0 4.6,0a2.3,2.3 0 1,0 -4.6,0M436.9,287.5a2.3,2.3 0 1,0 4.6,0a2.3,2.3 0 1,0 -4.6,0M437.6,288.2a2.3,2.3 0 1,0 4.6,0a2.3,2.3 0 1,0 -4.6,0M439.0,287.7a2.3,2.3 0 1,0 4.6,0a2.3,2.3 0 1,0 -4.6,0M441.3,287.2a2.3,2.3 0 1,0 4.6,0a2.3,2.3 0 1,0 -4.6,0M442.5,286.7a2.3,2.3 0 1,0 4.6,0a2.3,2.3 0 1,0 -4.6,0M443.5,286.8a2.3,2.3 0 1,0 4.6,0a2.3,2.3 0 1,0 -4.6,0M444.9,287.2a2.3,2.3 0 1,0 4.6,0a2.3,2.3 0 1,0 -4.6,0M447.3,286.2a2.3,2.3 0 1,0 4.6,0a2.3,2.3 0 1,0 -4.6,0M447.4,286.5a2.3,2.3 0 1,0 4.6,0a2.3,2.3 0 1,0 -4.6,0M448.7,286.5a2.3,2.3 0 1,0 4.6,0a2.3,2.3 0 1,0 -4.6,0M450.8,286.2a2.3,2.3 0 1,0 4.6,0a2.3,2.3 0 1,0 -4.6,0M452.2,285.6a2.3,2.3 0 1,0 4.6,0a2.3,2.3 0 1,0 -4.6,0M453.8,285.6a2.3,2.3 0 1,0 4.6,0a2.3,2.3 0 1,0 -4.6,0M454.5,286.0a2.3,2.3 0 1,0 4.6,0a2.3,2.3 0 1,0 -4.6,0M456.1,286.7a2.3,2.3 0 1,0 4.6,0a2.3,2.3 0 1,0 -4.6,0M457.7,286.1a2.3,2.3 0 1,0 4.6,0a2.3,2.3 0 1,0 -4.6,0M459.3,287.1a2.3,2.3 0 1,0 4.6,0a2.3,2.3 0 1,0 -4.6,0M460.5,286.6a2.3,2.3 0 1,0 4.6,0a2.3,2.3 0 1,0 -4.6,0M462.4,286.7a2.3,2.3 0 1,0 4.6,0a2.3,2.3 0 1,0 -4.6,0M462.7,287.7a2.3,2.3 0 1,0 4.6,0a2.3,2.3 0 1,0 -4.6,0M465.6,285.8a2.3,2.3 0 1,0 4.6,0a2.3,2.3 0 1,0 -4.6,0M466.0,287.0a2.3,2.3 0 1,0 4.6,0a2.3,2.3 0 1,0 -4.6,0M467.9,287.1a2.3,2.3 0 1,0 4.6,0a2.3,2.3 0 1,0 -4.6,0M468.7,286.4a2.3,2.3 0 1,0 4.6,0a2.3,2.3 0 1,0 -4.6,0M470.2,287.5a2.3,2.3 0 1,0 4.6,0a2.3,2.3 0 1,0 -4.6,0M471.1,286.6a2.3,2.3 0 1,0 4.6,0a2.3,2.3 0 1,0 -4.6,0M473.0,286.3a2.3,2.3 0 1,0 4.6,0a2.3,2.3 0 1,0 -4.6,0M474.4,287.0a2.3,2.3 0 1,0 4.6,0a2.3,2.3 0 1,0 -4.6,0M476.1,287.0a2.3,2.3 0 1,0 4.6,0a2.3,2.3 0 1,0 -4.6,0M476.9,287.2a2.3,2.3 0 1,0 4.6,0a2.3,2.3 0 1,0 -4.6,0M478.7,287.1a2.3,2.3 0 1,0 4.6,0a2.3,2.3 0 1,0 -4.6,0M480.2,287.8a2.3,2.3 0 1,0 4.6,0a2.3,2.3 0 1,0 -4.6,0M481.2,289.6a2.3,2.3 0 1,0 4.6,0a2.3,2.3 0 1,0 -4.6,0M480.7,290.0a2.3,2.3 0 1,0 4.6,0a2.3,2.3 0 1,0 -4.6,0M480.4,292.4a2.3,2.3 0 1,0 4.6,0a2.3,2.3 0 1,0 -4.6,0M481.9,290.0a2.3,2.3 0 1,0 4.6,0a2.3,2.3 0 1,0 -4.6,0M483.2,287.9a2.3,2.3 0 1,0 4.6,0a2.3,2.3 0 1,0 -4.6,0M483.9,287.0a2.3,2.3 0 1,0 4.6,0a2.3,2.3 0 1,0 -4.6,0" fill="#7bb3a1"/>
<path d="M337.3,302.0 L338.7,283.0 L339.5,289.0 L340.4,294.2 L342.1,297.7 L346.4,302.0 L349.0,299.4 L352.5,296.8 L356.8,294.2 L358.6,289.0 L361.2,285.6 L363.7,281.3 L365.5,277.0 L367.2,272.6 L369.4,263.5 L372.1,267.5 L376.2,264.8 L381.5,255.4 L386.9,248.7 L392.3,247.3 L396.3,243.3 L399.0,246.0 L401.7,237.9 L405.8,234.4 L413.8,235.2 L424.6,237.9 L432.7,233.8 L440.8,232.5 L448.9,229.8 L456.9,227.1 L461.0,232.5 L465.0,236.5 L470.4,232.5 L475.8,229.8 L479.8,232.5 L483.9,230.6" fill="none" stroke="#0b6a54" stroke-width="3.4" stroke-linejoin="round" stroke-linecap="round"/>
<path d="M334.4,302.1a2.1,2.1 0 1,0 4.2,0a2.1,2.1 0 1,0 -4.2,0M335.8,299.8a2.1,2.1 0 1,0 4.2,0a2.1,2.1 0 1,0 -4.2,0M335.8,299.4a2.1,2.1 0 1,0 4.2,0a2.1,2.1 0 1,0 -4.2,0M335.7,298.1a2.1,2.1 0 1,0 4.2,0a2.1,2.1 0 1,0 -4.2,0M336.2,296.5a2.1,2.1 0 1,0 4.2,0a2.1,2.1 0 1,0 -4.2,0M336.1,295.0a2.1,2.1 0 1,0 4.2,0a2.1,2.1 0 1,0 -4.2,0M336.1,293.5a2.1,2.1 0 1,0 4.2,0a2.1,2.1 0 1,0 -4.2,0M335.9,293.3a2.1,2.1 0 1,0 4.2,0a2.1,2.1 0 1,0 -4.2,0M336.2,291.1a2.1,2.1 0 1,0 4.2,0a2.1,2.1 0 1,0 -4.2,0M335.6,289.4a2.1,2.1 0 1,0 4.2,0a2.1,2.1 0 1,0 -4.2,0M336.3,288.9a2.1,2.1 0 1,0 4.2,0a2.1,2.1 0 1,0 -4.2,0M336.5,287.3a2.1,2.1 0 1,0 4.2,0a2.1,2.1 0 1,0 -4.2,0M336.4,286.3a2.1,2.1 0 1,0 4.2,0a2.1,2.1 0 1,0 -4.2,0M336.3,284.1a2.1,2.1 0 1,0 4.2,0a2.1,2.1 0 1,0 -4.2,0M337.0,283.0a2.1,2.1 0 1,0 4.2,0a2.1,2.1 0 1,0 -4.2,0M336.7,284.2a2.1,2.1 0 1,0 4.2,0a2.1,2.1 0 1,0 -4.2,0M336.9,286.3a2.1,2.1 0 1,0 4.2,0a2.1,2.1 0 1,0 -4.2,0M337.4,287.0a2.1,2.1 0 1,0 4.2,0a2.1,2.1 0 1,0 -4.2,0M337.6,289.1a2.1,2.1 0 1,0 4.2,0a2.1,2.1 0 1,0 -4.2,0M337.2,290.6a2.1,2.1 0 1,0 4.2,0a2.1,2.1 0 1,0 -4.2,0M337.7,291.4a2.1,2.1 0 1,0 4.2,0a2.1,2.1 0 1,0 -4.2,0M338.4,293.5a2.1,2.1 0 1,0 4.2,0a2.1,2.1 0 1,0 -4.2,0M338.0,294.4a2.1,2.1 0 1,0 4.2,0a2.1,2.1 0 1,0 -4.2,0M338.8,297.0a2.1,2.1 0 1,0 4.2,0a2.1,2.1 0 1,0 -4.2,0M339.8,298.2a2.1,2.1 0 1,0 4.2,0a2.1,2.1 0 1,0 -4.2,0M340.8,299.1a2.1,2.1 0 1,0 4.2,0a2.1,2.1 0 1,0 -4.2,0M343.1,298.7a2.1,2.1 0 1,0 4.2,0a2.1,2.1 0 1,0 -4.2,0M343.0,301.2a2.1,2.1 0 1,0 4.2,0a2.1,2.1 0 1,0 -4.2,0M344.3,301.7a2.1,2.1 0 1,0 4.2,0a2.1,2.1 0 1,0 -4.2,0M346.6,300.7a2.1,2.1 0 1,0 4.2,0a2.1,2.1 0 1,0 -4.2,0M346.2,299.8a2.1,2.1 0 1,0 4.2,0a2.1,2.1 0 1,0 -4.2,0M347.3,299.1a2.1,2.1 0 1,0 4.2,0a2.1,2.1 0 1,0 -4.2,0M349.0,297.7a2.1,2.1 0 1,0 4.2,0a2.1,2.1 0 1,0 -4.2,0M351.0,296.9a2.1,2.1 0 1,0 4.2,0a2.1,2.1 0 1,0 -4.2,0M351.2,295.2a2.1,2.1 0 1,0 4.2,0a2.1,2.1 0 1,0 -4.2,0M353.8,295.4a2.1,2.1 0 1,0 4.2,0a2.1,2.1 0 1,0 -4.2,0M354.3,294.6a2.1,2.1 0 1,0 4.2,0a2.1,2.1 0 1,0 -4.2,0M355.4,293.2a2.1,2.1 0 1,0 4.2,0a2.1,2.1 0 1,0 -4.2,0M354.6,291.5a2.1,2.1 0 1,0 4.2,0a2.1,2.1 0 1,0 -4.2,0M356.5,290.6a2.1,2.1 0 1,0 4.2,0a2.1,2.1 0 1,0 -4.2,0M356.9,287.9a2.1,2.1 0 1,0 4.2,0a2.1,2.1 0 1,0 -4.2,0M357.4,288.1a2.1,2.1 0 1,0 4.2,0a2.1,2.1 0 1,0 -4.2,0M359.4,286.3a2.1,2.1 0 1,0 4.2,0a2.1,2.1 0 1,0 -4.2,0M359.0,285.6a2.1,2.1 0 1,0 4.2,0a2.1,2.1 0 1,0 -4.2,0M360.3,284.0a2.1,2.1 0 1,0 4.2,0a2.1,2.1 0 1,0 -4.2,0M361.3,282.4a2.1,2.1 0 1,0 4.2,0a2.1,2.1 0 1,0 -4.2,0M361.7,281.1a2.1,2.1 0 1,0 4.2,0a2.1,2.1 0 1,0 -4.2,0M362.3,279.6a2.1,2.1 0 1,0 4.2,0a2.1,2.1 0 1,0 -4.2,0M362.1,278.9a2.1,2.1 0 1,0 4.2,0a2.1,2.1 0 1,0 -4.2,0M363.5,276.7a2.1,2.1 0 1,0 4.2,0a2.1,2.1 0 1,0 -4.2,0M364.1,276.0a2.1,2.1 0 1,0 4.2,0a2.1,2.1 0 1,0 -4.2,0M364.1,274.0a2.1,2.1 0 1,0 4.2,0a2.1,2.1 0 1,0 -4.2,0M365.3,272.8a2.1,2.1 0 1,0 4.2,0a2.1,2.1 0 1,0 -4.2,0M365.3,270.4a2.1,2.1 0 1,0 4.2,0a2.1,2.1 0 1,0 -4.2,0M366.3,270.1a2.1,2.1 0 1,0 4.2,0a2.1,2.1 0 1,0 -4.2,0M366.0,268.6a2.1,2.1 0 1,0 4.2,0a2.1,2.1 0 1,0 -4.2,0M366.5,267.2a2.1,2.1 0 1,0 4.2,0a2.1,2.1 0 1,0 -4.2,0M366.2,265.8a2.1,2.1 0 1,0 4.2,0a2.1,2.1 0 1,0 -4.2,0M366.7,264.5a2.1,2.1 0 1,0 4.2,0a2.1,2.1 0 1,0 -4.2,0M366.8,263.8a2.1,2.1 0 1,0 4.2,0a2.1,2.1 0 1,0 -4.2,0M367.6,265.1a2.1,2.1 0 1,0 4.2,0a2.1,2.1 0 1,0 -4.2,0M368.6,266.3a2.1,2.1 0 1,0 4.2,0a2.1,2.1 0 1,0 -4.2,0M370.6,267.6a2.1,2.1 0 1,0 4.2,0a2.1,2.1 0 1,0 -4.2,0M371.0,266.6a2.1,2.1 0 1,0 4.2,0a2.1,2.1 0 1,0 -4.2,0M372.8,264.9a2.1,2.1 0 1,0 4.2,0a2.1,2.1 0 1,0 -4.2,0M373.8,264.9a2.1,2.1 0 1,0 4.2,0a2.1,2.1 0 1,0 -4.2,0M374.6,263.7a2.1,2.1 0 1,0 4.2,0a2.1,2.1 0 1,0 -4.2,0M375.8,262.8a2.1,2.1 0 1,0 4.2,0a2.1,2.1 0 1,0 -4.2,0M376.5,261.5a2.1,2.1 0 1,0 4.2,0a2.1,2.1 0 1,0 -4.2,0M376.6,260.1a2.1,2.1 0 1,0 4.2,0a2.1,2.1 0 1,0 -4.2,0M377.3,258.8a2.1,2.1 0 1,0 4.2,0a2.1,2.1 0 1,0 -4.2,0M378.0,257.0a2.1,2.1 0 1,0 4.2,0a2.1,2.1 0 1,0 -4.2,0M378.6,256.6a2.1,2.1 0 1,0 4.2,0a2.1,2.1 0 1,0 -4.2,0M379.0,255.4a2.1,2.1 0 1,0 4.2,0a2.1,2.1 0 1,0 -4.2,0M380.5,254.2a2.1,2.1 0 1,0 4.2,0a2.1,2.1 0 1,0 -4.2,0M382.1,252.0a2.1,2.1 0 1,0 4.2,0a2.1,2.1 0 1,0 -4.2,0M382.0,251.2a2.1,2.1 0 1,0 4.2,0a2.1,2.1 0 1,0 -4.2,0M383.4,252.1a2.1,2.1 0 1,0 4.2,0a2.1,2.1 0 1,0 -4.2,0M382.8,249.9a2.1,2.1 0 1,0 4.2,0a2.1,2.1 0 1,0 -4.2,0M385.0,248.6a2.1,2.1 0 1,0 4.2,0a2.1,2.1 0 1,0 -4.2,0M386.4,247.3a2.1,2.1 0 1,0 4.2,0a2.1,2.1 0 1,0 -4.2,0M387.9,248.2a2.1,2.1 0 1,0 4.2,0a2.1,2.1 0 1,0 -4.2,0M388.9,247.4a2.1,2.1 0 1,0 4.2,0a2.1,2.1 0 1,0 -4.2,0M390.5,247.1a2.1,2.1 0 1,0 4.2,0a2.1,2.1 0 1,0 -4.2,0M391.3,246.1a2.1,2.1 0 1,0 4.2,0a2.1,2.1 0 1,0 -4.2,0M391.2,245.3a2.1,2.1 0 1,0 4.2,0a2.1,2.1 0 1,0 -4.2,0M393.3,244.6a2.1,2.1 0 1,0 4.2,0a2.1,2.1 0 1,0 -4.2,0M393.8,243.3a2.1,2.1 0 1,0 4.2,0a2.1,2.1 0 1,0 -4.2,0M395.8,244.7a2.1,2.1 0 1,0 4.2,0a2.1,2.1 0 1,0 -4.2,0M397.5,246.9a2.1,2.1 0 1,0 4.2,0a2.1,2.1 0 1,0 -4.2,0M396.9,243.8a2.1,2.1 0 1,0 4.2,0a2.1,2.1 0 1,0 -4.2,0M398.2,244.0a2.1,2.1 0 1,0 4.2,0a2.1,2.1 0 1,0 -4.2,0M398.7,242.3a2.1,2.1 0 1,0 4.2,0a2.1,2.1 0 1,0 -4.2,0M398.4,240.3a2.1,2.1 0 1,0 4.2,0a2.1,2.1 0 1,0 -4.2,0M399.5,238.8a2.1,2.1 0 1,0 4.2,0a2.1,2.1 0 1,0 -4.2,0M398.8,237.5a2.1,2.1 0 1,0 4.2,0a2.1,2.1 0 1,0 -4.2,0M401.7,237.9a2.1,2.1 0 1,0 4.2,0a2.1,2.1 0 1,0 -4.2,0M401.3,235.8a2.1,2.1 0 1,0 4.2,0a2.1,2.1 0 1,0 -4.2,0M402.8,234.9a2.1,2.1 0 1,0 4.2,0a2.1,2.1 0 1,0 -4.2,0M404.3,234.4a2.1,2.1 0 1,0 4.2,0a2.1,2.1 0 1,0 -4.2,0M404.5,235.1a2.1,2.1 0 1,0 4.2,0a2.1,2.1 0 1,0 -4.2,0M406.1,234.8a2.1,2.1 0 1,0 4.2,0a2.1,2.1 0 1,0 -4.2,0M407.7,234.7a2.1,2.1 0 1,0 4.2,0a2.1,2.1 0 1,0 -4.2,0M409.2,234.6a2.1,2.1 0 1,0 4.2,0a2.1,2.1 0 1,0 -4.2,0M409.5,234.1a2.1,2.1 0 1,0 4.2,0a2.1,2.1 0 1,0 -4.2,0M411.1,234.9a2.1,2.1 0 1,0 4.2,0a2.1,2.1 0 1,0 -4.2,0M413.0,235.6a2.1,2.1 0 1,0 4.2,0a2.1,2.1 0 1,0 -4.2,0M414.7,235.9a2.1,2.1 0 1,0 4.2,0a2.1,2.1 0 1,0 -4.2,0M415.4,235.9a2.1,2.1 0 1,0 4.2,0a2.1,2.1 0 1,0 -4.2,0M416.1,236.5a2.1,2.1 0 1,0 4.2,0a2.1,2.1 0 1,0 -4.2,0M418.7,237.1a2.1,2.1 0 1,0 4.2,0a2.1,2.1 0 1,0 -4.2,0M419.7,237.1a2.1,2.1 0 1,0 4.2,0a2.1,2.1 0 1,0 -4.2,0M421.6,237.6a2.1,2.1 0 1,0 4.2,0a2.1,2.1 0 1,0 -4.2,0M422.8,238.2a2.1,2.1 0 1,0 4.2,0a2.1,2.1 0 1,0 -4.2,0M423.9,237.8a2.1,2.1 0 1,0 4.2,0a2.1,2.1 0 1,0 -4.2,0M424.9,236.4a2.1,2.1 0 1,0 4.2,0a2.1,2.1 0 1,0 -4.2,0M426.2,235.5a2.1,2.1 0 1,0 4.2,0a2.1,2.1 0 1,0 -4.2,0M428.6,236.0a2.1,2.1 0 1,0 4.2,0a2.1,2.1 0 1,0 -4.2,0M429.3,234.7a2.1,2.1 0 1,0 4.2,0a2.1,2.1 0 1,0 -4.2,0M431.1,234.2a2.1,2.1 0 1,0 4.2,0a2.1,2.1 0 1,0 -4.2,0M432.5,233.0a2.1,2.1 0 1,0 4.2,0a2.1,2.1 0 1,0 -4.2,0M433.0,233.6a2.1,2.1 0 1,0 4.2,0a2.1,2.1 0 1,0 -4.2,0M435.3,233.2a2.1,2.1 0 1,0 4.2,0a2.1,2.1 0 1,0 -4.2,0M435.6,232.8a2.1,2.1 0 1,0 4.2,0a2.1,2.1 0 1,0 -4.2,0M437.1,232.3a2.1,2.1 0 1,0 4.2,0a2.1,2.1 0 1,0 -4.2,0M439.4,232.2a2.1,2.1 0 1,0 4.2,0a2.1,2.1 0 1,0 -4.2,0M440.1,233.0a2.1,2.1 0 1,0 4.2,0a2.1,2.1 0 1,0 -4.2,0M441.9,231.8a2.1,2.1 0 1,0 4.2,0a2.1,2.1 0 1,0 -4.2,0M442.5,231.3a2.1,2.1 0 1,0 4.2,0a2.1,2.1 0 1,0 -4.2,0M444.8,231.0a2.1,2.1 0 1,0 4.2,0a2.1,2.1 0 1,0 -4.2,0M446.0,230.3a2.1,2.1 0 1,0 4.2,0a2.1,2.1 0 1,0 -4.2,0M447.0,229.7a2.1,2.1 0 1,0 4.2,0a2.1,2.1 0 1,0 -4.2,0M448.3,229.9a2.1,2.1 0 1,0 4.2,0a2.1,2.1 0 1,0 -4.2,0M448.8,228.9a2.1,2.1 0 1,0 4.2,0a2.1,2.1 0 1,0 -4.2,0M450.9,228.2a2.1,2.1 0 1,0 4.2,0a2.1,2.1 0 1,0 -4.2,0M452.0,228.4a2.1,2.1 0 1,0 4.2,0a2.1,2.1 0 1,0 -4.2,0M454.4,227.8a2.1,2.1 0 1,0 4.2,0a2.1,2.1 0 1,0 -4.2,0M454.9,226.4a2.1,2.1 0 1,0 4.2,0a2.1,2.1 0 1,0 -4.2,0M456.5,228.2a2.1,2.1 0 1,0 4.2,0a2.1,2.1 0 1,0 -4.2,0M456.4,228.8a2.1,2.1 0 1,0 4.2,0a2.1,2.1 0 1,0 -4.2,0M457.2,229.8a2.1,2.1 0 1,0 4.2,0a2.1,2.1 0 1,0 -4.2,0M458.1,231.6a2.1,2.1 0 1,0 4.2,0a2.1,2.1 0 1,0 -4.2,0M458.9,232.6a2.1,2.1 0 1,0 4.2,0a2.1,2.1 0 1,0 -4.2,0M459.5,234.1a2.1,2.1 0 1,0 4.2,0a2.1,2.1 0 1,0 -4.2,0M460.6,233.7a2.1,2.1 0 1,0 4.2,0a2.1,2.1 0 1,0 -4.2,0M461.8,235.2a2.1,2.1 0 1,0 4.2,0a2.1,2.1 0 1,0 -4.2,0M462.4,236.3a2.1,2.1 0 1,0 4.2,0a2.1,2.1 0 1,0 -4.2,0M464.1,235.2a2.1,2.1 0 1,0 4.2,0a2.1,2.1 0 1,0 -4.2,0M465.0,235.5a2.1,2.1 0 1,0 4.2,0a2.1,2.1 0 1,0 -4.2,0M466.4,234.0a2.1,2.1 0 1,0 4.2,0a2.1,2.1 0 1,0 -4.2,0M467.3,233.2a2.1,2.1 0 1,0 4.2,0a2.1,2.1 0 1,0 -4.2,0M468.3,232.8a2.1,2.1 0 1,0 4.2,0a2.1,2.1 0 1,0 -4.2,0M469.6,230.7a2.1,2.1 0 1,0 4.2,0a2.1,2.1 0 1,0 -4.2,0M471.0,230.7a2.1,2.1 0 1,0 4.2,0a2.1,2.1 0 1,0 -4.2,0M472.6,230.2a2.1,2.1 0 1,0 4.2,0a2.1,2.1 0 1,0 -4.2,0M473.8,230.8a2.1,2.1 0 1,0 4.2,0a2.1,2.1 0 1,0 -4.2,0M474.6,230.2a2.1,2.1 0 1,0 4.2,0a2.1,2.1 0 1,0 -4.2,0M475.7,230.5a2.1,2.1 0 1,0 4.2,0a2.1,2.1 0 1,0 -4.2,0M476.9,232.7a2.1,2.1 0 1,0 4.2,0a2.1,2.1 0 1,0 -4.2,0M478.8,231.0a2.1,2.1 0 1,0 4.2,0a2.1,2.1 0 1,0 -4.2,0M479.8,231.5a2.1,2.1 0 1,0 4.2,0a2.1,2.1 0 1,0 -4.2,0" fill="#0b6a54"/>
<circle cx="337.3" cy="318.5" r="1.7" fill="#7bb3a1"/>
<circle cx="337.3" cy="323.6" r="1.7" fill="#7bb3a1"/>
<circle cx="337.3" cy="329.5" r="1.7" fill="#0b6a54"/>
<text x="15.8" y="386.6" font-size="11.2" textLength="8.2" lengthAdjust="spacingAndGlyphs" font-weight="bold" fill="#000" >D</text>
<line x1="72.7" y1="380.6" x2="72.7" y2="419.6" stroke="#111" stroke-width="1.1"/>
<line x1="69.2" y1="419.6" x2="76" y2="419.6" stroke="#111" stroke-width="1.1"/>
<line x1="72.7" y1="428.7" x2="72.7" y2="501.2" stroke="#111" stroke-width="1.1"/>
<line x1="69.2" y1="428.7" x2="76" y2="428.7" stroke="#111" stroke-width="1.1"/>
<line x1="69.5" y1="380.6" x2="72.7" y2="380.6" stroke="#111" stroke-width="1.1"/>
<text x="66.3" y="383.20000000000005" font-size="7.6" text-anchor="end" fill="#1a1a1a">4×10<tspan font-size="4.3" dy="-3">11</tspan></text>
<line x1="69.5" y1="392" x2="72.7" y2="392" stroke="#111" stroke-width="1.1"/>
<text x="66.3" y="394.6" font-size="7.6" text-anchor="end" fill="#1a1a1a">3×10<tspan font-size="4.3" dy="-3">11</tspan></text>
<line x1="69.5" y1="403" x2="72.7" y2="403" stroke="#111" stroke-width="1.1"/>
<text x="66.3" y="405.6" font-size="7.6" text-anchor="end" fill="#1a1a1a">2×10<tspan font-size="4.3" dy="-3">11</tspan></text>
<line x1="69.5" y1="413.8" x2="72.7" y2="413.8" stroke="#111" stroke-width="1.1"/>
<text x="66.3" y="416.40000000000003" font-size="7.6" text-anchor="end" fill="#1a1a1a">1×10<tspan font-size="4.3" dy="-3">11</tspan></text>
<line x1="69.5" y1="443.5" x2="72.7" y2="443.5" stroke="#111" stroke-width="1.1"/>
<text x="66.3" y="446.1" font-size="7.6" text-anchor="end" fill="#1a1a1a">4×10<tspan font-size="4.3" dy="-3">10</tspan></text>
<line x1="69.5" y1="472.3" x2="72.7" y2="472.3" stroke="#111" stroke-width="1.1"/>
<text x="66.3" y="474.90000000000003" font-size="7.6" text-anchor="end" fill="#1a1a1a">2×10<tspan font-size="4.3" dy="-3">10</tspan></text>
<line x1="69.5" y1="501.2" x2="72.7" y2="501.2" stroke="#111" stroke-width="1.1"/>
<text x="66" y="503.8" font-size="7.6" text-anchor="end" fill="#1a1a1a" >0</text>
<line x1="72.7" y1="501.2" x2="254" y2="501.2" stroke="#111" stroke-width="1.1"/>
<text transform="translate(23.9,440.5) rotate(-90)" font-size="8.8" text-anchor="middle" fill="#1a1a1a" textLength="79" lengthAdjust="spacingAndGlyphs">AUC Fluorescence (RLU)</text>
<text x="120" y="387.8" font-size="7.4" text-anchor="middle" textLength="27.8" lengthAdjust="spacingAndGlyphs" fill="#333" >p = 0.02</text>
<line x1="106" y1="389.5" x2="134" y2="389.5" stroke="#555" stroke-width="1"/>
<text x="204" y="401.2" font-size="7.4" text-anchor="middle" textLength="33" lengthAdjust="spacingAndGlyphs" fill="#333" >p = 0.009</text>
<line x1="187.2" y1="403.5" x2="221" y2="403.5" stroke="#555" stroke-width="1"/>
<text x="90.7" y="514.2" font-size="8.6" font-style="italic" fill="#1a1a1a">Vlk<tspan font-size="4.2" dy="-3.3" textLength="5" lengthAdjust="spacingAndGlyphs">fl/fl</tspan></text>
<text x="122.4" y="514.2" font-size="8.8" textLength="28.6" lengthAdjust="spacingAndGlyphs" font-style="italic" fill="#1a1a1a" >Vlk-cKO</text>
<text x="175" y="514.2" font-size="8.6" font-style="italic" fill="#1a1a1a">Vlk<tspan font-size="4.2" dy="-3.3" textLength="5.2" lengthAdjust="spacingAndGlyphs">fl/fl</tspan></text>
<text x="206.2" y="514.2" font-size="8.8" textLength="28.4" lengthAdjust="spacingAndGlyphs" font-style="italic" fill="#1a1a1a" >Vlk-cKO</text>
<line x1="85.2" y1="517.6" x2="142" y2="517.6" stroke="#555" stroke-width="1"/>
<line x1="164.8" y1="517.6" x2="222" y2="517.6" stroke="#555" stroke-width="1"/>
<text x="90.7" y="527.2" font-size="9" textLength="45.5" lengthAdjust="spacingAndGlyphs" fill="#1a1a1a" >Platelet AUC</text>
<text x="173.8" y="527.2" font-size="9" textLength="39.1" lengthAdjust="spacingAndGlyphs" fill="#1a1a1a" >Fibrin AUC</text>
<line x1="100.3" y1="438.6" x2="100.3" y2="462.8" stroke="#6a6a6a" stroke-width="0.9"/>
<line x1="93.3" y1="438.6" x2="107.3" y2="438.6" stroke="#6a6a6a" stroke-width="0.9"/>
<line x1="93.3" y1="462.8" x2="107.3" y2="462.8" stroke="#6a6a6a" stroke-width="0.9"/>
<line x1="86.39999999999999" y1="450.6" x2="114.2" y2="450.6" stroke="#6a6a6a" stroke-width="0.9"/>
<line x1="142.0" y1="488.8" x2="142.0" y2="488.8" stroke="#6a6a6a" stroke-width="0.9"/>
<line x1="135.1" y1="488.8" x2="148.9" y2="488.8" stroke="#6a6a6a" stroke-width="0.9"/>
<line x1="135.1" y1="488.8" x2="148.9" y2="488.8" stroke="#6a6a6a" stroke-width="0.9"/>
<line x1="135.1" y1="488.8" x2="148.9" y2="488.8" stroke="#6a6a6a" stroke-width="0.9"/>
<line x1="183.7" y1="463.8" x2="183.7" y2="482.5" stroke="#6a6a6a" stroke-width="0.9"/>
<line x1="177.35" y1="463.8" x2="190.04999999999998" y2="463.8" stroke="#6a6a6a" stroke-width="0.9"/>
<line x1="177.35" y1="482.5" x2="190.04999999999998" y2="482.5" stroke="#6a6a6a" stroke-width="0.9"/>
<line x1="170.2" y1="472.0" x2="197.2" y2="472.0" stroke="#6a6a6a" stroke-width="0.9"/>
<line x1="225.5" y1="477.7" x2="225.5" y2="485.1" stroke="#6a6a6a" stroke-width="0.9"/>
<line x1="219.5" y1="477.7" x2="231.5" y2="477.7" stroke="#6a6a6a" stroke-width="0.9"/>
<line x1="219.5" y1="485.1" x2="231.5" y2="485.1" stroke="#6a6a6a" stroke-width="0.9"/>
<line x1="211.7" y1="481.4" x2="239.3" y2="481.4" stroke="#6a6a6a" stroke-width="0.9"/>
<circle cx="100.2" cy="398.3" r="2.3" fill="#c8102e"/>
<circle cx="100.2" cy="402.6" r="2.3" fill="#c8102e"/>
<circle cx="100.2" cy="413.3" r="2.3" fill="#c8102e"/>
<circle cx="96.9" cy="416.2" r="2.3" fill="#c8102e"/>
<circle cx="103.6" cy="416.2" r="2.3" fill="#c8102e"/>
<circle cx="100.2" cy="416.8" r="2.3" fill="#c8102e"/>
<circle cx="98.3" cy="419.6" r="2.3" fill="#c8102e"/>
<circle cx="102.1" cy="419.6" r="2.3" fill="#c8102e"/>
<circle cx="100.2" cy="420.5" r="2.3" fill="#c8102e"/>
<circle cx="100.2" cy="431.2" r="2.3" fill="#c8102e"/>
<circle cx="100.2" cy="442.3" r="2.3" fill="#c8102e"/>
<circle cx="100.2" cy="445.4" r="2.3" fill="#c8102e"/>
<circle cx="100.2" cy="448.0" r="2.3" fill="#c8102e"/>
<circle cx="99.0" cy="450.6" r="2.3" fill="#c8102e"/>
<circle cx="101.5" cy="451.0" r="2.3" fill="#c8102e"/>
<circle cx="100.2" cy="455.0" r="2.3" fill="#c8102e"/>
<circle cx="100.2" cy="462.4" r="2.3" fill="#c8102e"/>
<circle cx="99.4" cy="463.2" r="2.3" fill="#c8102e"/>
<circle cx="101.3" cy="463.2" r="2.3" fill="#c8102e"/>
<circle cx="100.2" cy="465.9" r="2.3" fill="#c8102e"/>
<circle cx="100.2" cy="472.0" r="2.3" fill="#c8102e"/>
<circle cx="100.2" cy="477.0" r="2.3" fill="#c8102e"/>
<circle cx="100.2" cy="482.9" r="2.3" fill="#c8102e"/>
<circle cx="101.2" cy="491.5" r="2.3" fill="#c8102e"/>
<circle cx="97.9" cy="493.5" r="2.3" fill="#c8102e"/>
<circle cx="87.8" cy="500.0" r="2.3" fill="#c8102e"/>
<circle cx="90.0" cy="499.4" r="2.3" fill="#c8102e"/>
<circle cx="92.2" cy="500.0" r="2.3" fill="#c8102e"/>
<circle cx="94.4" cy="499.4" r="2.3" fill="#c8102e"/>
<circle cx="96.6" cy="500.0" r="2.3" fill="#c8102e"/>
<circle cx="98.8" cy="499.4" r="2.3" fill="#c8102e"/>
<circle cx="101.0" cy="500.0" r="2.3" fill="#c8102e"/>
<circle cx="103.2" cy="499.4" r="2.3" fill="#c8102e"/>
<circle cx="105.4" cy="500.0" r="2.3" fill="#c8102e"/>
<circle cx="107.6" cy="499.4" r="2.3" fill="#c8102e"/>
<circle cx="109.8" cy="500.0" r="2.3" fill="#c8102e"/>
<circle cx="112.0" cy="499.4" r="2.3" fill="#c8102e"/>
<circle cx="89.8" cy="497.5" r="2.3" fill="#c8102e"/>
<circle cx="92.8" cy="498.3" r="2.3" fill="#c8102e"/>
<circle cx="95.7" cy="497.5" r="2.3" fill="#c8102e"/>
<circle cx="99.0" cy="498.0" r="2.3" fill="#c8102e"/>
<circle cx="104.0" cy="498.2" r="2.3" fill="#c8102e"/>
<circle cx="108.0" cy="498.5" r="2.3" fill="#c8102e"/>
<circle cx="142.1" cy="388.3" r="2.3" fill="#c8102e"/>
<circle cx="141.0" cy="415.5" r="2.3" fill="#c8102e"/>
<circle cx="143.4" cy="416.2" r="2.3" fill="#c8102e"/>
<circle cx="142.0" cy="418.2" r="2.3" fill="#c8102e"/>
<circle cx="141.2" cy="418.0" r="2.3" fill="#c8102e"/>
<circle cx="142.1" cy="420.3" r="2.3" fill="#c8102e"/>
<circle cx="142.1" cy="430.2" r="2.3" fill="#c8102e"/>
<circle cx="142.1" cy="445.2" r="2.3" fill="#c8102e"/>
<circle cx="142.1" cy="452.9" r="2.3" fill="#c8102e"/>
<circle cx="142.1" cy="464.7" r="2.3" fill="#c8102e"/>
<circle cx="142.1" cy="470.2" r="2.3" fill="#c8102e"/>
<circle cx="142.1" cy="475.4" r="2.3" fill="#c8102e"/>
<circle cx="142.0" cy="478.1" r="2.3" fill="#c8102e"/>
<circle cx="142.0" cy="480.8" r="2.3" fill="#c8102e"/>
<circle cx="142.0" cy="483.3" r="2.3" fill="#c8102e"/>
<circle cx="141.7" cy="488.5" r="2.3" fill="#c8102e"/>
<circle cx="142.7" cy="490.9" r="2.3" fill="#c8102e"/>
<circle cx="142.0" cy="492.6" r="2.3" fill="#c8102e"/>
<circle cx="141.0" cy="495.0" r="2.3" fill="#c8102e"/>
<circle cx="144.8" cy="496.1" r="2.3" fill="#c8102e"/>
<circle cx="129.2" cy="500.0" r="2.3" fill="#c8102e"/>
<circle cx="131.3" cy="499.3" r="2.3" fill="#c8102e"/>
<circle cx="133.5" cy="500.0" r="2.3" fill="#c8102e"/>
<circle cx="135.6" cy="499.3" r="2.3" fill="#c8102e"/>
<circle cx="137.8" cy="500.0" r="2.3" fill="#c8102e"/>
<circle cx="139.9" cy="499.3" r="2.3" fill="#c8102e"/>
<circle cx="142.1" cy="500.0" r="2.3" fill="#c8102e"/>
<circle cx="144.2" cy="499.3" r="2.3" fill="#c8102e"/>
<circle cx="146.4" cy="500.0" r="2.3" fill="#c8102e"/>
<circle cx="148.5" cy="499.3" r="2.3" fill="#c8102e"/>
<circle cx="150.7" cy="500.0" r="2.3" fill="#c8102e"/>
<circle cx="152.8" cy="499.3" r="2.3" fill="#c8102e"/>
<circle cx="155.0" cy="500.0" r="2.3" fill="#c8102e"/>
<circle cx="130.9" cy="496.1" r="2.3" fill="#c8102e"/>
<circle cx="133.0" cy="498.0" r="2.3" fill="#c8102e"/>
<circle cx="137.0" cy="498.5" r="2.3" fill="#c8102e"/>
<circle cx="140.0" cy="497.5" r="2.3" fill="#c8102e"/>
<circle cx="147.0" cy="498.0" r="2.3" fill="#c8102e"/>
<circle cx="151.0" cy="498.5" r="2.3" fill="#c8102e"/>
<circle cx="154.5" cy="497.8" r="2.3" fill="#c8102e"/>
<circle cx="183.7" cy="409.5" r="2.3" fill="#c8102e"/>
<circle cx="175.6" cy="416.4" r="2.3" fill="#c8102e"/>
<circle cx="179.0" cy="418.5" r="2.3" fill="#c8102e"/>
<circle cx="182.0" cy="416.4" r="2.3" fill="#c8102e"/>
<circle cx="185.6" cy="419.3" r="2.3" fill="#c8102e"/>
<circle cx="188.6" cy="418.1" r="2.3" fill="#c8102e"/>
<circle cx="182.2" cy="432.1" r="2.3" fill="#c8102e"/>
<circle cx="185.6" cy="435.2" r="2.3" fill="#c8102e"/>
<circle cx="183.7" cy="443.9" r="2.3" fill="#c8102e"/>
<circle cx="185.4" cy="454.1" r="2.3" fill="#c8102e"/>
<circle cx="181.7" cy="458.6" r="2.3" fill="#c8102e"/>
<circle cx="185.4" cy="460.5" r="2.3" fill="#c8102e"/>
<circle cx="191.8" cy="463.4" r="2.3" fill="#c8102e"/>
<circle cx="185.4" cy="467.2" r="2.3" fill="#c8102e"/>
<circle cx="172.3" cy="470.2" r="2.3" fill="#c8102e"/>
<circle cx="175.3" cy="472.0" r="2.3" fill="#c8102e"/>
<circle cx="178.7" cy="470.5" r="2.3" fill="#c8102e"/>
<circle cx="182.1" cy="470.2" r="2.3" fill="#c8102e"/>
<circle cx="188.4" cy="469.8" r="2.3" fill="#c8102e"/>
<circle cx="195.5" cy="470.9" r="2.3" fill="#c8102e"/>
<circle cx="192.1" cy="473.5" r="2.3" fill="#c8102e"/>
<circle cx="185.0" cy="473.2" r="2.3" fill="#c8102e"/>
<circle cx="182.1" cy="475.8" r="2.3" fill="#c8102e"/>
<circle cx="188.4" cy="476.1" r="2.3" fill="#c8102e"/>
<circle cx="185.4" cy="479.9" r="2.3" fill="#c8102e"/>
<circle cx="182.1" cy="481.7" r="2.3" fill="#c8102e"/>
<circle cx="188.4" cy="483.2" r="2.3" fill="#c8102e"/>
<circle cx="178.7" cy="484.7" r="2.3" fill="#c8102e"/>
<circle cx="182.1" cy="489.6" r="2.3" fill="#c8102e"/>
<circle cx="181.6" cy="491.5" r="2.3" fill="#c8102e"/>
<circle cx="172.1" cy="494.0" r="2.3" fill="#c8102e"/>
<circle cx="175.6" cy="496.1" r="2.3" fill="#c8102e"/>
<circle cx="185.0" cy="494.0" r="2.3" fill="#c8102e"/>
<circle cx="179.0" cy="497.0" r="2.3" fill="#c8102e"/>
<circle cx="172.1" cy="500.0" r="2.3" fill="#c8102e"/>
<circle cx="186.0" cy="499.6" r="2.3" fill="#c8102e"/>
<circle cx="192.0" cy="500.0" r="2.3" fill="#c8102e"/>
<circle cx="195.5" cy="500.0" r="2.3" fill="#c8102e"/>
<circle cx="183.0" cy="500.3" r="2.3" fill="#c8102e"/>
<circle cx="189.0" cy="498.0" r="2.3" fill="#c8102e"/>
<circle cx="225.4" cy="412.9" r="2.3" fill="#c8102e"/>
<circle cx="225.4" cy="419.7" r="2.3" fill="#c8102e"/>
<circle cx="225.4" cy="429.4" r="2.3" fill="#c8102e"/>
<circle cx="225.4" cy="445.3" r="2.3" fill="#c8102e"/>
<circle cx="224.0" cy="457.2" r="2.3" fill="#c8102e"/>
<circle cx="227.2" cy="457.6" r="2.3" fill="#c8102e"/>
<circle cx="225.6" cy="460.4" r="2.3" fill="#c8102e"/>
<circle cx="223.5" cy="463.8" r="2.3" fill="#c8102e"/>
<circle cx="227.6" cy="464.5" r="2.3" fill="#c8102e"/>
<circle cx="225.4" cy="466.5" r="2.3" fill="#c8102e"/>
<circle cx="224.2" cy="469.0" r="2.3" fill="#c8102e"/>
<circle cx="226.8" cy="470.2" r="2.3" fill="#c8102e"/>
<circle cx="224.2" cy="471.6" r="2.3" fill="#c8102e"/>
<circle cx="226.8" cy="472.8" r="2.3" fill="#c8102e"/>
<circle cx="224.2" cy="474.2" r="2.3" fill="#c8102e"/>
<circle cx="226.8" cy="475.4" r="2.3" fill="#c8102e"/>
<circle cx="224.2" cy="476.8" r="2.3" fill="#c8102e"/>
<circle cx="226.8" cy="478.0" r="2.3" fill="#c8102e"/>
<circle cx="224.2" cy="479.4" r="2.3" fill="#c8102e"/>
<circle cx="226.8" cy="480.6" r="2.3" fill="#c8102e"/>
<circle cx="224.2" cy="482.0" r="2.3" fill="#c8102e"/>
<circle cx="226.8" cy="483.2" r="2.3" fill="#c8102e"/>
<circle cx="224.2" cy="484.6" r="2.3" fill="#c8102e"/>
<circle cx="226.8" cy="485.8" r="2.3" fill="#c8102e"/>
<circle cx="221.5" cy="487.0" r="2.3" fill="#c8102e"/>
<circle cx="224.5" cy="487.0" r="2.3" fill="#c8102e"/>
<circle cx="227.5" cy="487.0" r="2.3" fill="#c8102e"/>
<circle cx="230.5" cy="487.0" r="2.3" fill="#c8102e"/>
<circle cx="221.5" cy="489.6" r="2.3" fill="#c8102e"/>
<circle cx="224.5" cy="489.6" r="2.3" fill="#c8102e"/>
<circle cx="227.5" cy="489.6" r="2.3" fill="#c8102e"/>
<circle cx="230.5" cy="489.6" r="2.3" fill="#c8102e"/>
<circle cx="221.5" cy="492.2" r="2.3" fill="#c8102e"/>
<circle cx="224.5" cy="492.2" r="2.3" fill="#c8102e"/>
<circle cx="227.5" cy="492.2" r="2.3" fill="#c8102e"/>
<circle cx="230.5" cy="492.2" r="2.3" fill="#c8102e"/>
<circle cx="221.5" cy="494.8" r="2.3" fill="#c8102e"/>
<circle cx="224.5" cy="494.8" r="2.3" fill="#c8102e"/>
<circle cx="227.5" cy="494.8" r="2.3" fill="#c8102e"/>
<circle cx="230.5" cy="494.8" r="2.3" fill="#c8102e"/>
<circle cx="213.6" cy="499.5" r="2.3" fill="#c8102e"/>
<circle cx="216.0" cy="499.5" r="2.3" fill="#c8102e"/>
<circle cx="218.5" cy="499.5" r="2.3" fill="#c8102e"/>
<circle cx="221.0" cy="499.5" r="2.3" fill="#c8102e"/>
<circle cx="223.5" cy="499.5" r="2.3" fill="#c8102e"/>
<circle cx="226.0" cy="499.5" r="2.3" fill="#c8102e"/>
<circle cx="228.5" cy="499.5" r="2.3" fill="#c8102e"/>
<circle cx="231.0" cy="499.5" r="2.3" fill="#c8102e"/>
<circle cx="233.5" cy="499.5" r="2.3" fill="#c8102e"/>
<circle cx="236.0" cy="499.5" r="2.3" fill="#c8102e"/>
<circle cx="238.0" cy="499.5" r="2.3" fill="#c8102e"/>
<circle cx="215.0" cy="496.8" r="2.3" fill="#c8102e"/>
<circle cx="218.5" cy="496.8" r="2.3" fill="#c8102e"/>
<circle cx="222.0" cy="496.8" r="2.3" fill="#c8102e"/>
<circle cx="225.5" cy="496.8" r="2.3" fill="#c8102e"/>
<circle cx="229.0" cy="496.8" r="2.3" fill="#c8102e"/>
<circle cx="232.5" cy="496.8" r="2.3" fill="#c8102e"/>
<circle cx="236.5" cy="496.8" r="2.3" fill="#c8102e"/>
<text x="282.1" y="386.8" font-size="11.2" textLength="6.3" lengthAdjust="spacingAndGlyphs" font-weight="bold" fill="#000" >E</text>
<line x1="336.9" y1="383.8" x2="336.9" y2="501.9" stroke="#2a2a2a" stroke-width="1.4"/>
<line x1="333.9" y1="501.20" x2="336.9" y2="501.20" stroke="#2a2a2a" stroke-width="1"/>
<text x="330.6" y="504.4" font-size="9.2" text-anchor="end" textLength="4.27" lengthAdjust="spacingAndGlyphs" fill="#1a1a1a" >0</text>
<line x1="333.9" y1="471.85" x2="336.9" y2="471.85" stroke="#2a2a2a" stroke-width="1"/>
<text x="330.6" y="475.04999999999995" font-size="9.2" text-anchor="end" textLength="12.81" lengthAdjust="spacingAndGlyphs" fill="#1a1a1a" >100</text>
<line x1="333.9" y1="442.50" x2="336.9" y2="442.50" stroke="#2a2a2a" stroke-width="1"/>
<text x="330.6" y="445.7" font-size="9.2" text-anchor="end" textLength="12.81" lengthAdjust="spacingAndGlyphs" fill="#1a1a1a" >200</text>
<line x1="333.9" y1="413.15" x2="336.9" y2="413.15" stroke="#2a2a2a" stroke-width="1"/>
<text x="330.6" y="416.34999999999997" font-size="9.2" text-anchor="end" textLength="12.81" lengthAdjust="spacingAndGlyphs" fill="#1a1a1a" >300</text>
<line x1="333.9" y1="383.80" x2="336.9" y2="383.80" stroke="#2a2a2a" stroke-width="1"/>
<text x="330.6" y="386.99999999999994" font-size="9.2" text-anchor="end" textLength="12.81" lengthAdjust="spacingAndGlyphs" fill="#1a1a1a" >400</text>
<line x1="336.2" y1="501.3" x2="490.8" y2="501.3" stroke="#2a2a2a" stroke-width="1.2"/>
<line x1="376" y1="501.2" x2="376" y2="504.4" stroke="#2a2a2a" stroke-width="1"/>
<line x1="453.5" y1="501.2" x2="453.5" y2="504.4" stroke="#2a2a2a" stroke-width="1"/>
<text x="369.2" y="514.1" font-size="8.6" font-style="italic" fill="#1a1a1a">Vlkf<tspan font-size="4.2" dy="-3.3">/f</tspan></text>
<text x="440" y="514.1" font-size="8.8" textLength="27.5" lengthAdjust="spacingAndGlyphs" font-style="italic" fill="#1a1a1a" >Vlk-cKO</text>
<text transform="translate(289.5,442.3) rotate(-90)" font-size="8.8" text-anchor="middle" fill="#1a1a1a" textLength="57.4" lengthAdjust="spacingAndGlyphs">Bleeding time (s)</text>
<text x="414.6" y="393.4" font-size="7.6" text-anchor="middle" textLength="36.2" lengthAdjust="spacingAndGlyphs" fill="#333" >p = 0.6567</text>
<line x1="375.4" y1="397.5" x2="454.2" y2="397.5" stroke="#666" stroke-width="1"/>
<line x1="376.2" y1="441.1" x2="376.2" y2="455.3" stroke="#6a6a6a" stroke-width="0.9"/>
<line x1="363.8" y1="441.1" x2="388.59999999999997" y2="441.1" stroke="#6a6a6a" stroke-width="0.9"/>
<line x1="363.8" y1="455.3" x2="388.59999999999997" y2="455.3" stroke="#6a6a6a" stroke-width="0.9"/>
<line x1="350.75" y1="448.0" x2="401.65" y2="448.0" stroke="#6a6a6a" stroke-width="0.9"/>
<circle cx="376.1" cy="430.7" r="2.35" fill="#c8102e"/>
<circle cx="376.1" cy="442.5" r="2.35" fill="#c8102e"/>
<circle cx="376.1" cy="447.4" r="2.35" fill="#c8102e"/>
<circle cx="376.1" cy="467.5" r="2.35" fill="#c8102e"/>
<circle cx="376.1" cy="470.2" r="2.35" fill="#c8102e"/>
<line x1="453.1" y1="436.4" x2="453.1" y2="450.7" stroke="#6a6a6a" stroke-width="0.9"/>
<line x1="440.85" y1="436.4" x2="465.35" y2="436.4" stroke="#6a6a6a" stroke-width="0.9"/>
<line x1="440.85" y1="450.7" x2="465.35" y2="450.7" stroke="#6a6a6a" stroke-width="0.9"/>
<line x1="427.70000000000005" y1="443.5" x2="478.5" y2="443.5" stroke="#6a6a6a" stroke-width="0.9"/>
<rect x="451.1" y="413.4" width="3.9" height="8.0" fill="#0c4f8b"/>
<rect x="451.1" y="443.2" width="3.9" height="13.5" fill="#0c4f8b"/>
<rect x="451.1" y="466" width="3.9" height="3.9" fill="#0c4f8b"/>
<rect x="0.5" y="0.5" width="519" height="535" fill="none" stroke="#000" stroke-width="1.2"/>
</svg></body></html>
